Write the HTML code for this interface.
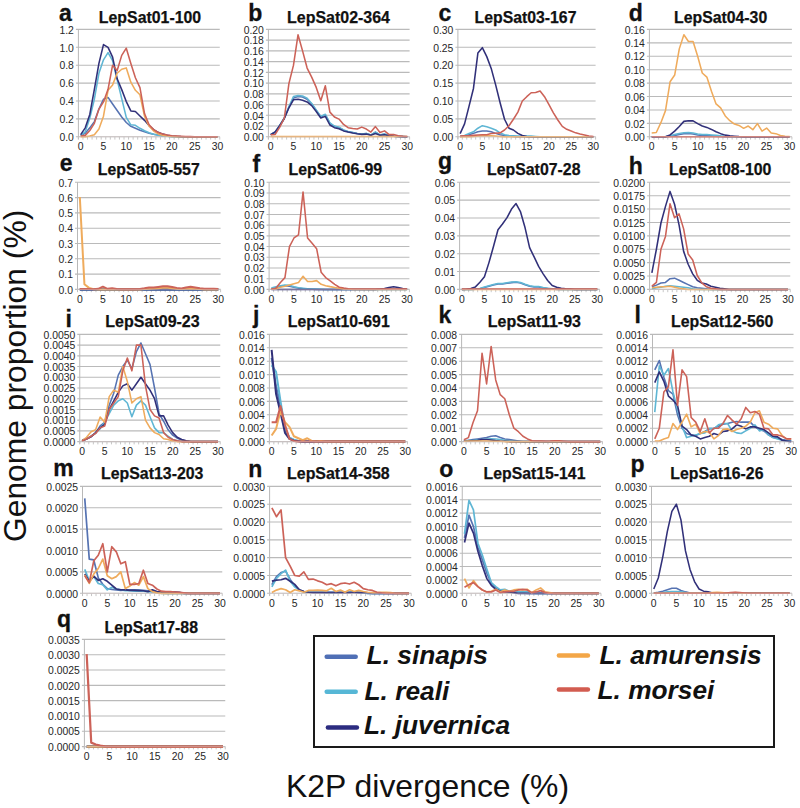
<!DOCTYPE html>
<html><head><meta charset="utf-8">
<style>
html,body{margin:0;padding:0;background:#fff;}
body{width:800px;height:808px;position:relative;overflow:hidden;font-family:"Liberation Sans",sans-serif;}
.yl{font-family:"Liberation Sans",sans-serif;font-size:10.4px;fill:#262626;text-anchor:end;}
.xl{font-family:"Liberation Sans",sans-serif;font-size:10.4px;fill:#262626;text-anchor:middle;}
.tt{font-family:"Liberation Sans",sans-serif;font-size:17.2px;font-weight:bold;fill:#111;stroke:#111;stroke-width:0.25px;text-anchor:middle;}
.lt{font-family:"Liberation Sans",sans-serif;font-size:23px;font-weight:bold;fill:#111;stroke:#111;stroke-width:0.3px;}
.lg{font-family:"Liberation Sans",sans-serif;font-size:26.3px;font-weight:bold;font-style:italic;fill:#111;}
.big{font-family:"Liberation Sans",sans-serif;font-size:31.4px;fill:#111;}
</style></head><body>
<svg width="800" height="808" viewBox="0 0 800 808" style="position:absolute;left:0;top:0">
<line x1="75.90" y1="136.80" x2="219.75" y2="136.80" stroke="#bababa" stroke-width="1.1"/>
<text x="73.90" y="141.00" class="yl">0.0</text>
<line x1="75.90" y1="118.90" x2="219.75" y2="118.90" stroke="#bababa" stroke-width="1.1"/>
<text x="73.90" y="123.10" class="yl">0.2</text>
<line x1="75.90" y1="101.00" x2="219.75" y2="101.00" stroke="#bababa" stroke-width="1.1"/>
<text x="73.90" y="105.20" class="yl">0.4</text>
<line x1="75.90" y1="83.10" x2="219.75" y2="83.10" stroke="#bababa" stroke-width="1.1"/>
<text x="73.90" y="87.30" class="yl">0.6</text>
<line x1="75.90" y1="65.20" x2="219.75" y2="65.20" stroke="#bababa" stroke-width="1.1"/>
<text x="73.90" y="69.40" class="yl">0.8</text>
<line x1="75.90" y1="47.30" x2="219.75" y2="47.30" stroke="#bababa" stroke-width="1.1"/>
<text x="73.90" y="51.50" class="yl">1.0</text>
<line x1="75.90" y1="29.40" x2="219.75" y2="29.40" stroke="#bababa" stroke-width="1.1"/>
<text x="73.90" y="33.60" class="yl">1.2</text>
<line x1="78.40" y1="29.40" x2="78.40" y2="139.30" stroke="#b8b8b8" stroke-width="1"/>
<line x1="78.40" y1="136.80" x2="78.40" y2="139.60" stroke="#c0c0c0" stroke-width="0.9"/>
<line x1="82.96" y1="136.80" x2="82.96" y2="139.60" stroke="#c0c0c0" stroke-width="0.9"/>
<line x1="87.52" y1="136.80" x2="87.52" y2="139.60" stroke="#c0c0c0" stroke-width="0.9"/>
<line x1="92.08" y1="136.80" x2="92.08" y2="139.60" stroke="#c0c0c0" stroke-width="0.9"/>
<line x1="96.64" y1="136.80" x2="96.64" y2="139.60" stroke="#c0c0c0" stroke-width="0.9"/>
<line x1="101.20" y1="136.80" x2="101.20" y2="139.60" stroke="#c0c0c0" stroke-width="0.9"/>
<line x1="105.76" y1="136.80" x2="105.76" y2="139.60" stroke="#c0c0c0" stroke-width="0.9"/>
<line x1="110.32" y1="136.80" x2="110.32" y2="139.60" stroke="#c0c0c0" stroke-width="0.9"/>
<line x1="114.88" y1="136.80" x2="114.88" y2="139.60" stroke="#c0c0c0" stroke-width="0.9"/>
<line x1="119.44" y1="136.80" x2="119.44" y2="139.60" stroke="#c0c0c0" stroke-width="0.9"/>
<line x1="124.00" y1="136.80" x2="124.00" y2="139.60" stroke="#c0c0c0" stroke-width="0.9"/>
<line x1="128.56" y1="136.80" x2="128.56" y2="139.60" stroke="#c0c0c0" stroke-width="0.9"/>
<line x1="133.12" y1="136.80" x2="133.12" y2="139.60" stroke="#c0c0c0" stroke-width="0.9"/>
<line x1="137.68" y1="136.80" x2="137.68" y2="139.60" stroke="#c0c0c0" stroke-width="0.9"/>
<line x1="142.24" y1="136.80" x2="142.24" y2="139.60" stroke="#c0c0c0" stroke-width="0.9"/>
<line x1="146.80" y1="136.80" x2="146.80" y2="139.60" stroke="#c0c0c0" stroke-width="0.9"/>
<line x1="151.35" y1="136.80" x2="151.35" y2="139.60" stroke="#c0c0c0" stroke-width="0.9"/>
<line x1="155.91" y1="136.80" x2="155.91" y2="139.60" stroke="#c0c0c0" stroke-width="0.9"/>
<line x1="160.47" y1="136.80" x2="160.47" y2="139.60" stroke="#c0c0c0" stroke-width="0.9"/>
<line x1="165.03" y1="136.80" x2="165.03" y2="139.60" stroke="#c0c0c0" stroke-width="0.9"/>
<line x1="169.59" y1="136.80" x2="169.59" y2="139.60" stroke="#c0c0c0" stroke-width="0.9"/>
<line x1="174.15" y1="136.80" x2="174.15" y2="139.60" stroke="#c0c0c0" stroke-width="0.9"/>
<line x1="178.71" y1="136.80" x2="178.71" y2="139.60" stroke="#c0c0c0" stroke-width="0.9"/>
<line x1="183.27" y1="136.80" x2="183.27" y2="139.60" stroke="#c0c0c0" stroke-width="0.9"/>
<line x1="187.83" y1="136.80" x2="187.83" y2="139.60" stroke="#c0c0c0" stroke-width="0.9"/>
<line x1="192.39" y1="136.80" x2="192.39" y2="139.60" stroke="#c0c0c0" stroke-width="0.9"/>
<line x1="196.95" y1="136.80" x2="196.95" y2="139.60" stroke="#c0c0c0" stroke-width="0.9"/>
<line x1="201.51" y1="136.80" x2="201.51" y2="139.60" stroke="#c0c0c0" stroke-width="0.9"/>
<line x1="206.07" y1="136.80" x2="206.07" y2="139.60" stroke="#c0c0c0" stroke-width="0.9"/>
<line x1="210.63" y1="136.80" x2="210.63" y2="139.60" stroke="#c0c0c0" stroke-width="0.9"/>
<line x1="215.19" y1="136.80" x2="215.19" y2="139.60" stroke="#c0c0c0" stroke-width="0.9"/>
<line x1="219.75" y1="136.80" x2="219.75" y2="139.60" stroke="#c0c0c0" stroke-width="0.9"/>
<text x="80.68" y="150.00" class="xl">0</text>
<text x="103.48" y="150.00" class="xl">5</text>
<text x="126.28" y="150.00" class="xl">10</text>
<text x="149.07" y="150.00" class="xl">15</text>
<text x="171.87" y="150.00" class="xl">20</text>
<text x="194.67" y="150.00" class="xl">25</text>
<text x="217.47" y="150.00" class="xl">30</text>
<polyline points="80.68,135.37 85.24,133.22 89.80,127.85 94.36,121.59 98.92,109.06 103.48,99.21 108.04,97.42 112.60,104.04 117.16,110.49 121.72,116.93 126.28,122.48 130.84,126.33 135.40,128.30 139.96,130.27 144.52,131.79 149.07,133.22 153.63,134.20 158.19,135.01 162.75,135.73 167.31,136.17 171.87,136.53 176.43,136.71 180.99,136.80 185.55,136.80 190.11,136.80 194.67,136.80 199.23,136.80 203.79,136.80 208.35,136.80 212.91,136.80 217.47,136.80" fill="none" stroke="#5673b2" stroke-width="1.55" stroke-linejoin="round"/>
<polyline points="80.68,135.37 85.24,131.88 89.80,118.01 94.36,99.21 98.92,73.25 103.48,59.83 108.04,52.67 112.60,60.73 117.16,79.79 121.72,98.58 126.28,117.38 130.84,124.81 135.40,125.34 139.96,128.30 144.52,130.80 149.07,132.77 153.63,134.20 158.19,135.19 162.75,135.91 167.31,136.35 171.87,136.62 176.43,136.71 180.99,136.80 185.55,136.80 190.11,136.80 194.67,136.80 199.23,136.80 203.79,136.80 208.35,136.80 212.91,136.80 217.47,136.80" fill="none" stroke="#5fb6d4" stroke-width="1.55" stroke-linejoin="round"/>
<polyline points="80.68,134.65 85.24,127.85 89.80,114.43 94.36,89.37 98.92,63.41 103.48,44.61 108.04,47.30 112.60,57.14 117.16,78.80 121.72,89.63 126.28,101.54 130.84,110.93 135.40,111.47 139.96,115.95 144.52,120.33 149.07,125.61 153.63,129.64 158.19,132.33 162.75,134.12 167.31,135.19 171.87,135.91 176.43,136.35 180.99,136.62 185.55,136.71 190.11,136.80 194.67,136.80 199.23,136.80 203.79,136.80 208.35,136.80 212.91,136.80 217.47,136.80" fill="none" stroke="#313079" stroke-width="1.55" stroke-linejoin="round"/>
<polyline points="80.68,136.80 85.24,136.80 89.80,136.08 94.36,134.65 98.92,129.01 103.48,116.22 108.04,90.26 112.60,84.89 117.16,73.25 121.72,69.23 126.28,67.89 130.84,82.21 135.40,90.26 139.96,94.74 144.52,116.22 149.07,126.06 153.63,131.07 158.19,133.94 162.75,135.37 167.31,136.08 171.87,136.44 176.43,136.62 180.99,136.80 185.55,136.80 190.11,136.80 194.67,136.80 199.23,136.80 203.79,136.80 208.35,136.80 212.91,136.80 217.47,136.80" fill="none" stroke="#efab5c" stroke-width="1.55" stroke-linejoin="round"/>
<polyline points="80.68,136.08 85.24,135.37 89.80,130.54 94.36,123.38 98.92,109.06 103.48,101.90 108.04,89.37 112.60,65.20 117.16,70.57 121.72,55.36 126.28,48.20 130.84,63.41 135.40,77.73 139.96,87.58 144.52,113.53 149.07,124.72 153.63,129.64 158.19,132.50 162.75,133.94 167.31,135.01 171.87,135.73 176.43,136.08 180.99,136.35 185.55,136.53 190.11,136.62 194.67,136.71 199.23,136.80 203.79,136.80 208.35,136.80 212.91,136.80 217.47,136.80" fill="none" stroke="#cc6258" stroke-width="1.55" stroke-linejoin="round"/>
<line x1="78.40" y1="136.80" x2="219.75" y2="136.80" stroke="#d8c8c8" stroke-width="1.0" opacity="0.5"/>
<text x="150.00" y="23.10" class="tt" textLength="102.30" lengthAdjust="spacingAndGlyphs">LepSat01-100</text>
<text x="59.00" y="21.10" class="lt">a</text>
<line x1="265.90" y1="136.80" x2="409.60" y2="136.80" stroke="#bababa" stroke-width="1.1"/>
<text x="263.90" y="141.00" class="yl">0.00</text>
<line x1="265.90" y1="126.06" x2="409.60" y2="126.06" stroke="#bababa" stroke-width="1.1"/>
<text x="263.90" y="130.26" class="yl">0.02</text>
<line x1="265.90" y1="115.32" x2="409.60" y2="115.32" stroke="#bababa" stroke-width="1.1"/>
<text x="263.90" y="119.52" class="yl">0.04</text>
<line x1="265.90" y1="104.58" x2="409.60" y2="104.58" stroke="#bababa" stroke-width="1.1"/>
<text x="263.90" y="108.78" class="yl">0.06</text>
<line x1="265.90" y1="93.84" x2="409.60" y2="93.84" stroke="#bababa" stroke-width="1.1"/>
<text x="263.90" y="98.04" class="yl">0.08</text>
<line x1="265.90" y1="83.10" x2="409.60" y2="83.10" stroke="#bababa" stroke-width="1.1"/>
<text x="263.90" y="87.30" class="yl">0.10</text>
<line x1="265.90" y1="72.36" x2="409.60" y2="72.36" stroke="#bababa" stroke-width="1.1"/>
<text x="263.90" y="76.56" class="yl">0.12</text>
<line x1="265.90" y1="61.62" x2="409.60" y2="61.62" stroke="#bababa" stroke-width="1.1"/>
<text x="263.90" y="65.82" class="yl">0.14</text>
<line x1="265.90" y1="50.88" x2="409.60" y2="50.88" stroke="#bababa" stroke-width="1.1"/>
<text x="263.90" y="55.08" class="yl">0.16</text>
<line x1="265.90" y1="40.14" x2="409.60" y2="40.14" stroke="#bababa" stroke-width="1.1"/>
<text x="263.90" y="44.34" class="yl">0.18</text>
<line x1="265.90" y1="29.40" x2="409.60" y2="29.40" stroke="#bababa" stroke-width="1.1"/>
<text x="263.90" y="33.60" class="yl">0.20</text>
<line x1="268.40" y1="29.40" x2="268.40" y2="139.30" stroke="#b8b8b8" stroke-width="1"/>
<line x1="268.40" y1="136.80" x2="268.40" y2="139.60" stroke="#c0c0c0" stroke-width="0.9"/>
<line x1="272.95" y1="136.80" x2="272.95" y2="139.60" stroke="#c0c0c0" stroke-width="0.9"/>
<line x1="277.51" y1="136.80" x2="277.51" y2="139.60" stroke="#c0c0c0" stroke-width="0.9"/>
<line x1="282.06" y1="136.80" x2="282.06" y2="139.60" stroke="#c0c0c0" stroke-width="0.9"/>
<line x1="286.62" y1="136.80" x2="286.62" y2="139.60" stroke="#c0c0c0" stroke-width="0.9"/>
<line x1="291.17" y1="136.80" x2="291.17" y2="139.60" stroke="#c0c0c0" stroke-width="0.9"/>
<line x1="295.73" y1="136.80" x2="295.73" y2="139.60" stroke="#c0c0c0" stroke-width="0.9"/>
<line x1="300.28" y1="136.80" x2="300.28" y2="139.60" stroke="#c0c0c0" stroke-width="0.9"/>
<line x1="304.84" y1="136.80" x2="304.84" y2="139.60" stroke="#c0c0c0" stroke-width="0.9"/>
<line x1="309.39" y1="136.80" x2="309.39" y2="139.60" stroke="#c0c0c0" stroke-width="0.9"/>
<line x1="313.95" y1="136.80" x2="313.95" y2="139.60" stroke="#c0c0c0" stroke-width="0.9"/>
<line x1="318.50" y1="136.80" x2="318.50" y2="139.60" stroke="#c0c0c0" stroke-width="0.9"/>
<line x1="323.06" y1="136.80" x2="323.06" y2="139.60" stroke="#c0c0c0" stroke-width="0.9"/>
<line x1="327.61" y1="136.80" x2="327.61" y2="139.60" stroke="#c0c0c0" stroke-width="0.9"/>
<line x1="332.17" y1="136.80" x2="332.17" y2="139.60" stroke="#c0c0c0" stroke-width="0.9"/>
<line x1="336.72" y1="136.80" x2="336.72" y2="139.60" stroke="#c0c0c0" stroke-width="0.9"/>
<line x1="341.28" y1="136.80" x2="341.28" y2="139.60" stroke="#c0c0c0" stroke-width="0.9"/>
<line x1="345.83" y1="136.80" x2="345.83" y2="139.60" stroke="#c0c0c0" stroke-width="0.9"/>
<line x1="350.39" y1="136.80" x2="350.39" y2="139.60" stroke="#c0c0c0" stroke-width="0.9"/>
<line x1="354.94" y1="136.80" x2="354.94" y2="139.60" stroke="#c0c0c0" stroke-width="0.9"/>
<line x1="359.50" y1="136.80" x2="359.50" y2="139.60" stroke="#c0c0c0" stroke-width="0.9"/>
<line x1="364.05" y1="136.80" x2="364.05" y2="139.60" stroke="#c0c0c0" stroke-width="0.9"/>
<line x1="368.61" y1="136.80" x2="368.61" y2="139.60" stroke="#c0c0c0" stroke-width="0.9"/>
<line x1="373.16" y1="136.80" x2="373.16" y2="139.60" stroke="#c0c0c0" stroke-width="0.9"/>
<line x1="377.72" y1="136.80" x2="377.72" y2="139.60" stroke="#c0c0c0" stroke-width="0.9"/>
<line x1="382.27" y1="136.80" x2="382.27" y2="139.60" stroke="#c0c0c0" stroke-width="0.9"/>
<line x1="386.83" y1="136.80" x2="386.83" y2="139.60" stroke="#c0c0c0" stroke-width="0.9"/>
<line x1="391.38" y1="136.80" x2="391.38" y2="139.60" stroke="#c0c0c0" stroke-width="0.9"/>
<line x1="395.94" y1="136.80" x2="395.94" y2="139.60" stroke="#c0c0c0" stroke-width="0.9"/>
<line x1="400.49" y1="136.80" x2="400.49" y2="139.60" stroke="#c0c0c0" stroke-width="0.9"/>
<line x1="405.05" y1="136.80" x2="405.05" y2="139.60" stroke="#c0c0c0" stroke-width="0.9"/>
<line x1="409.60" y1="136.80" x2="409.60" y2="139.60" stroke="#c0c0c0" stroke-width="0.9"/>
<text x="270.68" y="150.00" class="xl">0</text>
<text x="293.45" y="150.00" class="xl">5</text>
<text x="316.23" y="150.00" class="xl">10</text>
<text x="339.00" y="150.00" class="xl">15</text>
<text x="361.77" y="150.00" class="xl">20</text>
<text x="384.55" y="150.00" class="xl">25</text>
<text x="407.32" y="150.00" class="xl">30</text>
<polyline points="270.68,134.65 275.23,131.97 279.79,125.52 284.34,118.01 288.90,107.27 293.45,98.14 298.01,96.53 302.56,97.06 307.12,99.21 311.67,104.04 316.23,110.49 320.78,116.93 325.34,114.78 329.89,123.38 334.45,126.60 339.00,127.67 343.55,130.19 348.11,131.70 352.66,132.61 357.22,133.58 361.77,134.12 366.33,133.58 370.88,135.08 375.44,132.24 379.99,135.08 384.55,134.12 389.10,135.62 393.66,136.26 398.21,136.48 402.77,136.64 407.32,136.69" fill="none" stroke="#5673b2" stroke-width="1.55" stroke-linejoin="round"/>
<polyline points="270.68,134.65 275.23,131.97 279.79,125.52 284.34,118.01 288.90,106.73 293.45,96.53 298.01,95.45 302.56,95.99 307.12,98.14 311.67,103.51 316.23,109.95 320.78,116.39 325.34,114.25 329.89,122.84 334.45,126.06 339.00,127.13 343.55,129.93 348.11,131.54 352.66,132.50 357.22,133.47 361.77,134.01 366.33,133.47 370.88,134.97 375.44,132.07 379.99,134.97 384.55,134.01 389.10,135.51 393.66,136.16 398.21,136.42 402.77,136.59 407.32,136.69" fill="none" stroke="#5fb6d4" stroke-width="1.55" stroke-linejoin="round"/>
<polyline points="270.68,134.65 275.23,131.97 279.79,125.52 284.34,118.54 288.90,107.80 293.45,99.75 298.01,99.21 302.56,100.28 307.12,101.90 311.67,105.65 316.23,111.56 320.78,118.01 325.34,116.39 329.89,124.99 334.45,127.67 339.00,128.75 343.55,130.89 348.11,132.07 352.66,133.04 357.22,133.85 361.77,134.38 366.33,134.12 370.88,135.19 375.44,133.58 379.99,135.19 384.55,134.65 389.10,135.73 393.66,136.26 398.21,136.53 402.77,136.64 407.32,136.75" fill="none" stroke="#313079" stroke-width="1.55" stroke-linejoin="round"/>
<polyline points="270.68,136.53 275.23,136.53 279.79,136.53 284.34,136.53 288.90,136.53 293.45,136.53 298.01,136.53 302.56,136.53 307.12,136.53 311.67,136.53 316.23,136.53 320.78,136.53 325.34,136.53 329.89,136.53 334.45,136.53 339.00,136.53 343.55,136.53 348.11,136.53 352.66,136.53 357.22,136.53 361.77,136.53 366.33,136.53 370.88,136.53 375.44,136.53 379.99,136.53 384.55,136.53 389.10,136.53 393.66,136.53 398.21,136.53 402.77,136.53 407.32,136.53" fill="none" stroke="#efab5c" stroke-width="1.55" stroke-linejoin="round"/>
<polyline points="270.68,134.65 275.23,134.44 279.79,127.13 284.34,118.01 288.90,83.64 293.45,65.38 298.01,34.77 302.56,50.88 307.12,68.06 311.67,77.19 316.23,87.40 320.78,100.82 325.34,85.79 329.89,112.10 334.45,116.93 339.00,119.08 343.55,124.45 348.11,127.67 352.66,128.58 357.22,129.07 361.77,127.13 366.33,129.07 370.88,132.07 375.44,126.60 379.99,132.56 384.55,130.89 389.10,134.60 393.66,134.60 398.21,135.78 402.77,136.26 407.32,136.42" fill="none" stroke="#cc6258" stroke-width="1.55" stroke-linejoin="round"/>
<line x1="268.40" y1="136.80" x2="409.60" y2="136.80" stroke="#d8c8c8" stroke-width="1.0" opacity="0.5"/>
<text x="338.50" y="23.10" class="tt" textLength="102.90" lengthAdjust="spacingAndGlyphs">LepSat02-364</text>
<text x="248.35" y="21.45" class="lt">b</text>
<line x1="455.40" y1="136.80" x2="595.60" y2="136.80" stroke="#bababa" stroke-width="1.1"/>
<text x="453.40" y="141.00" class="yl">0.00</text>
<line x1="455.40" y1="118.90" x2="595.60" y2="118.90" stroke="#bababa" stroke-width="1.1"/>
<text x="453.40" y="123.10" class="yl">0.05</text>
<line x1="455.40" y1="101.00" x2="595.60" y2="101.00" stroke="#bababa" stroke-width="1.1"/>
<text x="453.40" y="105.20" class="yl">0.10</text>
<line x1="455.40" y1="83.10" x2="595.60" y2="83.10" stroke="#bababa" stroke-width="1.1"/>
<text x="453.40" y="87.30" class="yl">0.15</text>
<line x1="455.40" y1="65.20" x2="595.60" y2="65.20" stroke="#bababa" stroke-width="1.1"/>
<text x="453.40" y="69.40" class="yl">0.20</text>
<line x1="455.40" y1="47.30" x2="595.60" y2="47.30" stroke="#bababa" stroke-width="1.1"/>
<text x="453.40" y="51.50" class="yl">0.25</text>
<line x1="455.40" y1="29.40" x2="595.60" y2="29.40" stroke="#bababa" stroke-width="1.1"/>
<text x="453.40" y="33.60" class="yl">0.30</text>
<line x1="457.90" y1="29.40" x2="457.90" y2="139.30" stroke="#b8b8b8" stroke-width="1"/>
<line x1="457.90" y1="136.80" x2="457.90" y2="139.60" stroke="#c0c0c0" stroke-width="0.9"/>
<line x1="462.34" y1="136.80" x2="462.34" y2="139.60" stroke="#c0c0c0" stroke-width="0.9"/>
<line x1="466.78" y1="136.80" x2="466.78" y2="139.60" stroke="#c0c0c0" stroke-width="0.9"/>
<line x1="471.23" y1="136.80" x2="471.23" y2="139.60" stroke="#c0c0c0" stroke-width="0.9"/>
<line x1="475.67" y1="136.80" x2="475.67" y2="139.60" stroke="#c0c0c0" stroke-width="0.9"/>
<line x1="480.11" y1="136.80" x2="480.11" y2="139.60" stroke="#c0c0c0" stroke-width="0.9"/>
<line x1="484.55" y1="136.80" x2="484.55" y2="139.60" stroke="#c0c0c0" stroke-width="0.9"/>
<line x1="488.99" y1="136.80" x2="488.99" y2="139.60" stroke="#c0c0c0" stroke-width="0.9"/>
<line x1="493.44" y1="136.80" x2="493.44" y2="139.60" stroke="#c0c0c0" stroke-width="0.9"/>
<line x1="497.88" y1="136.80" x2="497.88" y2="139.60" stroke="#c0c0c0" stroke-width="0.9"/>
<line x1="502.32" y1="136.80" x2="502.32" y2="139.60" stroke="#c0c0c0" stroke-width="0.9"/>
<line x1="506.76" y1="136.80" x2="506.76" y2="139.60" stroke="#c0c0c0" stroke-width="0.9"/>
<line x1="511.20" y1="136.80" x2="511.20" y2="139.60" stroke="#c0c0c0" stroke-width="0.9"/>
<line x1="515.65" y1="136.80" x2="515.65" y2="139.60" stroke="#c0c0c0" stroke-width="0.9"/>
<line x1="520.09" y1="136.80" x2="520.09" y2="139.60" stroke="#c0c0c0" stroke-width="0.9"/>
<line x1="524.53" y1="136.80" x2="524.53" y2="139.60" stroke="#c0c0c0" stroke-width="0.9"/>
<line x1="528.97" y1="136.80" x2="528.97" y2="139.60" stroke="#c0c0c0" stroke-width="0.9"/>
<line x1="533.41" y1="136.80" x2="533.41" y2="139.60" stroke="#c0c0c0" stroke-width="0.9"/>
<line x1="537.85" y1="136.80" x2="537.85" y2="139.60" stroke="#c0c0c0" stroke-width="0.9"/>
<line x1="542.30" y1="136.80" x2="542.30" y2="139.60" stroke="#c0c0c0" stroke-width="0.9"/>
<line x1="546.74" y1="136.80" x2="546.74" y2="139.60" stroke="#c0c0c0" stroke-width="0.9"/>
<line x1="551.18" y1="136.80" x2="551.18" y2="139.60" stroke="#c0c0c0" stroke-width="0.9"/>
<line x1="555.62" y1="136.80" x2="555.62" y2="139.60" stroke="#c0c0c0" stroke-width="0.9"/>
<line x1="560.06" y1="136.80" x2="560.06" y2="139.60" stroke="#c0c0c0" stroke-width="0.9"/>
<line x1="564.51" y1="136.80" x2="564.51" y2="139.60" stroke="#c0c0c0" stroke-width="0.9"/>
<line x1="568.95" y1="136.80" x2="568.95" y2="139.60" stroke="#c0c0c0" stroke-width="0.9"/>
<line x1="573.39" y1="136.80" x2="573.39" y2="139.60" stroke="#c0c0c0" stroke-width="0.9"/>
<line x1="577.83" y1="136.80" x2="577.83" y2="139.60" stroke="#c0c0c0" stroke-width="0.9"/>
<line x1="582.27" y1="136.80" x2="582.27" y2="139.60" stroke="#c0c0c0" stroke-width="0.9"/>
<line x1="586.72" y1="136.80" x2="586.72" y2="139.60" stroke="#c0c0c0" stroke-width="0.9"/>
<line x1="591.16" y1="136.80" x2="591.16" y2="139.60" stroke="#c0c0c0" stroke-width="0.9"/>
<line x1="595.60" y1="136.80" x2="595.60" y2="139.60" stroke="#c0c0c0" stroke-width="0.9"/>
<text x="460.12" y="150.00" class="xl">0</text>
<text x="482.33" y="150.00" class="xl">5</text>
<text x="504.54" y="150.00" class="xl">10</text>
<text x="526.75" y="150.00" class="xl">15</text>
<text x="548.96" y="150.00" class="xl">20</text>
<text x="571.17" y="150.00" class="xl">25</text>
<text x="593.38" y="150.00" class="xl">30</text>
<polyline points="460.12,136.44 464.56,135.91 469.00,134.65 473.45,133.36 477.89,131.79 482.33,131.07 486.77,131.07 491.21,131.79 495.66,133.36 500.10,134.65 504.54,135.55 508.98,136.08 513.42,136.44 517.87,136.80 522.31,136.80 526.75,136.80 531.19,136.80 535.63,136.80 540.08,136.80 544.52,136.80 548.96,136.80 553.40,136.80 557.84,136.80 562.29,136.80 566.73,136.80 571.17,136.80 575.61,136.80 580.05,136.80 584.50,136.80 588.94,136.80 593.38,136.80" fill="none" stroke="#5673b2" stroke-width="1.55" stroke-linejoin="round"/>
<polyline points="460.12,136.44 464.56,135.55 469.00,133.58 473.45,131.79 477.89,128.21 482.33,125.70 486.77,126.78 491.21,128.21 495.66,130.00 500.10,132.86 504.54,134.65 508.98,135.55 513.42,135.73 517.87,136.08 522.31,136.08 526.75,136.08 531.19,136.08 535.63,136.44 540.08,136.80 544.52,136.80 548.96,136.80 553.40,136.80 557.84,136.80 562.29,136.80 566.73,136.80 571.17,136.80 575.61,136.80 580.05,136.80 584.50,136.80 588.94,136.80 593.38,136.80" fill="none" stroke="#5fb6d4" stroke-width="1.55" stroke-linejoin="round"/>
<polyline points="460.12,133.58 464.56,123.91 469.00,106.37 473.45,88.47 477.89,53.03 482.33,47.66 486.77,56.61 491.21,68.42 495.66,84.89 500.10,102.79 504.54,119.26 508.98,128.21 513.42,130.00 517.87,133.36 522.31,135.55 526.75,136.44 531.19,136.80 535.63,136.80 540.08,136.80 544.52,136.80 548.96,136.80 553.40,136.80 557.84,136.80 562.29,136.80 566.73,136.80 571.17,136.80 575.61,136.80 580.05,136.80 584.50,136.80 588.94,136.80 593.38,136.80" fill="none" stroke="#313079" stroke-width="1.55" stroke-linejoin="round"/>
<polyline points="460.12,136.80 464.56,136.80 469.00,136.80 473.45,136.44 477.89,136.08 482.33,135.73 486.77,135.73 491.21,135.73 495.66,136.08 500.10,136.44 504.54,136.80 508.98,136.80 513.42,136.80 517.87,136.80 522.31,136.80 526.75,136.80 531.19,136.80 535.63,136.80 540.08,136.80 544.52,136.80 548.96,136.80 553.40,136.80 557.84,136.80 562.29,136.80 566.73,136.80 571.17,136.80 575.61,136.80 580.05,136.80 584.50,136.80 588.94,136.80 593.38,136.80" fill="none" stroke="#efab5c" stroke-width="1.55" stroke-linejoin="round"/>
<polyline points="460.12,136.08 464.56,135.73 469.00,135.73 473.45,135.37 477.89,135.01 482.33,134.65 486.77,134.65 491.21,133.58 495.66,133.22 500.10,132.86 504.54,130.00 508.98,125.70 513.42,119.26 517.87,112.10 522.31,101.00 526.75,96.70 531.19,92.77 535.63,92.41 540.08,90.98 544.52,96.70 548.96,104.58 553.40,112.81 557.84,119.97 562.29,126.42 566.73,129.28 571.17,131.07 575.61,132.86 580.05,134.08 584.50,135.01 588.94,135.91 593.38,136.44" fill="none" stroke="#cc6258" stroke-width="1.55" stroke-linejoin="round"/>
<line x1="457.90" y1="136.80" x2="595.60" y2="136.80" stroke="#d8c8c8" stroke-width="1.0" opacity="0.5"/>
<text x="525.50" y="23.10" class="tt" textLength="101.90" lengthAdjust="spacingAndGlyphs">LepSat03-167</text>
<text x="438.50" y="21.45" class="lt">c</text>
<line x1="646.90" y1="136.80" x2="791.90" y2="136.80" stroke="#bababa" stroke-width="1.1"/>
<text x="644.90" y="141.00" class="yl">0.00</text>
<line x1="646.90" y1="123.38" x2="791.90" y2="123.38" stroke="#bababa" stroke-width="1.1"/>
<text x="644.90" y="127.58" class="yl">0.02</text>
<line x1="646.90" y1="109.95" x2="791.90" y2="109.95" stroke="#bababa" stroke-width="1.1"/>
<text x="644.90" y="114.15" class="yl">0.04</text>
<line x1="646.90" y1="96.53" x2="791.90" y2="96.53" stroke="#bababa" stroke-width="1.1"/>
<text x="644.90" y="100.73" class="yl">0.06</text>
<line x1="646.90" y1="83.10" x2="791.90" y2="83.10" stroke="#bababa" stroke-width="1.1"/>
<text x="644.90" y="87.30" class="yl">0.08</text>
<line x1="646.90" y1="69.68" x2="791.90" y2="69.68" stroke="#bababa" stroke-width="1.1"/>
<text x="644.90" y="73.88" class="yl">0.10</text>
<line x1="646.90" y1="56.25" x2="791.90" y2="56.25" stroke="#bababa" stroke-width="1.1"/>
<text x="644.90" y="60.45" class="yl">0.12</text>
<line x1="646.90" y1="42.83" x2="791.90" y2="42.83" stroke="#bababa" stroke-width="1.1"/>
<text x="644.90" y="47.03" class="yl">0.14</text>
<line x1="646.90" y1="29.40" x2="791.90" y2="29.40" stroke="#bababa" stroke-width="1.1"/>
<text x="644.90" y="33.60" class="yl">0.16</text>
<line x1="649.40" y1="29.40" x2="649.40" y2="139.30" stroke="#b8b8b8" stroke-width="1"/>
<line x1="649.40" y1="136.80" x2="649.40" y2="139.60" stroke="#c0c0c0" stroke-width="0.9"/>
<line x1="654.00" y1="136.80" x2="654.00" y2="139.60" stroke="#c0c0c0" stroke-width="0.9"/>
<line x1="658.59" y1="136.80" x2="658.59" y2="139.60" stroke="#c0c0c0" stroke-width="0.9"/>
<line x1="663.19" y1="136.80" x2="663.19" y2="139.60" stroke="#c0c0c0" stroke-width="0.9"/>
<line x1="667.79" y1="136.80" x2="667.79" y2="139.60" stroke="#c0c0c0" stroke-width="0.9"/>
<line x1="672.38" y1="136.80" x2="672.38" y2="139.60" stroke="#c0c0c0" stroke-width="0.9"/>
<line x1="676.98" y1="136.80" x2="676.98" y2="139.60" stroke="#c0c0c0" stroke-width="0.9"/>
<line x1="681.58" y1="136.80" x2="681.58" y2="139.60" stroke="#c0c0c0" stroke-width="0.9"/>
<line x1="686.17" y1="136.80" x2="686.17" y2="139.60" stroke="#c0c0c0" stroke-width="0.9"/>
<line x1="690.77" y1="136.80" x2="690.77" y2="139.60" stroke="#c0c0c0" stroke-width="0.9"/>
<line x1="695.37" y1="136.80" x2="695.37" y2="139.60" stroke="#c0c0c0" stroke-width="0.9"/>
<line x1="699.96" y1="136.80" x2="699.96" y2="139.60" stroke="#c0c0c0" stroke-width="0.9"/>
<line x1="704.56" y1="136.80" x2="704.56" y2="139.60" stroke="#c0c0c0" stroke-width="0.9"/>
<line x1="709.16" y1="136.80" x2="709.16" y2="139.60" stroke="#c0c0c0" stroke-width="0.9"/>
<line x1="713.75" y1="136.80" x2="713.75" y2="139.60" stroke="#c0c0c0" stroke-width="0.9"/>
<line x1="718.35" y1="136.80" x2="718.35" y2="139.60" stroke="#c0c0c0" stroke-width="0.9"/>
<line x1="722.95" y1="136.80" x2="722.95" y2="139.60" stroke="#c0c0c0" stroke-width="0.9"/>
<line x1="727.55" y1="136.80" x2="727.55" y2="139.60" stroke="#c0c0c0" stroke-width="0.9"/>
<line x1="732.14" y1="136.80" x2="732.14" y2="139.60" stroke="#c0c0c0" stroke-width="0.9"/>
<line x1="736.74" y1="136.80" x2="736.74" y2="139.60" stroke="#c0c0c0" stroke-width="0.9"/>
<line x1="741.34" y1="136.80" x2="741.34" y2="139.60" stroke="#c0c0c0" stroke-width="0.9"/>
<line x1="745.93" y1="136.80" x2="745.93" y2="139.60" stroke="#c0c0c0" stroke-width="0.9"/>
<line x1="750.53" y1="136.80" x2="750.53" y2="139.60" stroke="#c0c0c0" stroke-width="0.9"/>
<line x1="755.13" y1="136.80" x2="755.13" y2="139.60" stroke="#c0c0c0" stroke-width="0.9"/>
<line x1="759.72" y1="136.80" x2="759.72" y2="139.60" stroke="#c0c0c0" stroke-width="0.9"/>
<line x1="764.32" y1="136.80" x2="764.32" y2="139.60" stroke="#c0c0c0" stroke-width="0.9"/>
<line x1="768.92" y1="136.80" x2="768.92" y2="139.60" stroke="#c0c0c0" stroke-width="0.9"/>
<line x1="773.51" y1="136.80" x2="773.51" y2="139.60" stroke="#c0c0c0" stroke-width="0.9"/>
<line x1="778.11" y1="136.80" x2="778.11" y2="139.60" stroke="#c0c0c0" stroke-width="0.9"/>
<line x1="782.71" y1="136.80" x2="782.71" y2="139.60" stroke="#c0c0c0" stroke-width="0.9"/>
<line x1="787.30" y1="136.80" x2="787.30" y2="139.60" stroke="#c0c0c0" stroke-width="0.9"/>
<line x1="791.90" y1="136.80" x2="791.90" y2="139.60" stroke="#c0c0c0" stroke-width="0.9"/>
<text x="651.70" y="150.00" class="xl">0</text>
<text x="674.68" y="150.00" class="xl">5</text>
<text x="697.67" y="150.00" class="xl">10</text>
<text x="720.65" y="150.00" class="xl">15</text>
<text x="743.63" y="150.00" class="xl">20</text>
<text x="766.62" y="150.00" class="xl">25</text>
<text x="789.60" y="150.00" class="xl">30</text>
<polyline points="651.70,136.80 656.30,136.80 660.89,136.80 665.49,136.80 670.09,136.13 674.68,135.46 679.28,134.38 683.88,133.65 688.47,133.44 693.07,133.98 697.67,134.92 702.26,135.46 706.86,135.46 711.46,135.86 716.05,136.26 720.65,136.60 725.25,136.80 729.84,136.80 734.44,136.80 739.04,136.80 743.63,136.80 748.23,136.80 752.83,136.80 757.42,136.80 762.02,136.80 766.62,136.80 771.21,136.80 775.81,136.80 780.41,136.80 785.00,136.80 789.60,136.80" fill="none" stroke="#5673b2" stroke-width="1.55" stroke-linejoin="round"/>
<polyline points="651.70,136.80 656.30,136.80 660.89,136.80 665.49,136.80 670.09,135.86 674.68,134.52 679.28,133.44 683.88,132.71 688.47,132.50 693.07,133.04 697.67,133.98 702.26,134.52 706.86,134.52 711.46,134.92 716.05,135.32 720.65,135.86 725.25,136.26 729.84,136.60 734.44,136.80 739.04,136.80 743.63,136.80 748.23,136.80 752.83,136.80 757.42,136.80 762.02,136.80 766.62,136.80 771.21,136.80 775.81,136.80 780.41,136.80 785.00,136.80 789.60,136.80" fill="none" stroke="#5fb6d4" stroke-width="1.55" stroke-linejoin="round"/>
<polyline points="651.70,136.80 656.30,136.80 660.89,136.80 665.49,136.80 670.09,134.92 674.68,131.16 679.28,126.46 683.88,121.36 688.47,120.69 693.07,120.89 697.67,123.64 702.26,126.06 706.86,127.40 711.46,129.42 716.05,131.77 720.65,133.65 725.25,135.12 729.84,135.86 734.44,136.26 739.04,136.60 743.63,136.80 748.23,136.80 752.83,136.80 757.42,136.80 762.02,136.80 766.62,136.80 771.21,136.80 775.81,136.80 780.41,136.80 785.00,136.80 789.60,136.80" fill="none" stroke="#313079" stroke-width="1.55" stroke-linejoin="round"/>
<polyline points="651.70,133.04 656.30,132.50 660.89,122.70 665.49,110.62 670.09,81.76 674.68,75.05 679.28,48.87 683.88,34.77 688.47,41.48 693.07,41.48 697.67,56.25 702.26,73.03 706.86,77.06 711.46,91.16 716.05,103.91 720.65,107.94 725.25,115.99 729.84,120.69 734.44,124.05 739.04,125.39 743.63,128.34 748.23,126.06 752.83,129.68 757.42,123.64 762.02,131.16 766.62,128.07 771.21,133.04 775.81,133.65 780.41,135.46 785.00,136.26 789.60,136.60" fill="none" stroke="#efab5c" stroke-width="1.55" stroke-linejoin="round"/>
<polyline points="651.70,136.80 656.30,136.80 660.89,136.80 665.49,136.80 670.09,136.80 674.68,136.80 679.28,136.80 683.88,136.80 688.47,136.80 693.07,136.80 697.67,136.80 702.26,136.80 706.86,136.80 711.46,136.80 716.05,136.80 720.65,136.80 725.25,136.80 729.84,136.80 734.44,136.80 739.04,136.80 743.63,136.80 748.23,136.80 752.83,136.80 757.42,136.80 762.02,136.80 766.62,136.80 771.21,136.80 775.81,136.80 780.41,136.80 785.00,136.80 789.60,136.80" fill="none" stroke="#cc6258" stroke-width="1.55" stroke-linejoin="round"/>
<line x1="649.40" y1="136.80" x2="791.90" y2="136.80" stroke="#d8c8c8" stroke-width="1.0" opacity="0.5"/>
<text x="720.62" y="23.10" class="tt" textLength="93.15" lengthAdjust="spacingAndGlyphs">LepSat04-30</text>
<text x="628.85" y="21.45" class="lt">d</text>
<line x1="75.00" y1="289.40" x2="220.60" y2="289.40" stroke="#bababa" stroke-width="1.1"/>
<text x="73.00" y="293.60" class="yl">0.0</text>
<line x1="75.00" y1="274.10" x2="220.60" y2="274.10" stroke="#bababa" stroke-width="1.1"/>
<text x="73.00" y="278.30" class="yl">0.1</text>
<line x1="75.00" y1="258.80" x2="220.60" y2="258.80" stroke="#bababa" stroke-width="1.1"/>
<text x="73.00" y="263.00" class="yl">0.2</text>
<line x1="75.00" y1="243.50" x2="220.60" y2="243.50" stroke="#bababa" stroke-width="1.1"/>
<text x="73.00" y="247.70" class="yl">0.3</text>
<line x1="75.00" y1="228.20" x2="220.60" y2="228.20" stroke="#bababa" stroke-width="1.1"/>
<text x="73.00" y="232.40" class="yl">0.4</text>
<line x1="75.00" y1="212.90" x2="220.60" y2="212.90" stroke="#bababa" stroke-width="1.1"/>
<text x="73.00" y="217.10" class="yl">0.5</text>
<line x1="75.00" y1="197.60" x2="220.60" y2="197.60" stroke="#bababa" stroke-width="1.1"/>
<text x="73.00" y="201.80" class="yl">0.6</text>
<line x1="75.00" y1="182.30" x2="220.60" y2="182.30" stroke="#bababa" stroke-width="1.1"/>
<text x="73.00" y="186.50" class="yl">0.7</text>
<line x1="77.50" y1="182.30" x2="77.50" y2="291.90" stroke="#b8b8b8" stroke-width="1"/>
<line x1="77.50" y1="289.40" x2="77.50" y2="292.20" stroke="#c0c0c0" stroke-width="0.9"/>
<line x1="82.12" y1="289.40" x2="82.12" y2="292.20" stroke="#c0c0c0" stroke-width="0.9"/>
<line x1="86.73" y1="289.40" x2="86.73" y2="292.20" stroke="#c0c0c0" stroke-width="0.9"/>
<line x1="91.35" y1="289.40" x2="91.35" y2="292.20" stroke="#c0c0c0" stroke-width="0.9"/>
<line x1="95.96" y1="289.40" x2="95.96" y2="292.20" stroke="#c0c0c0" stroke-width="0.9"/>
<line x1="100.58" y1="289.40" x2="100.58" y2="292.20" stroke="#c0c0c0" stroke-width="0.9"/>
<line x1="105.20" y1="289.40" x2="105.20" y2="292.20" stroke="#c0c0c0" stroke-width="0.9"/>
<line x1="109.81" y1="289.40" x2="109.81" y2="292.20" stroke="#c0c0c0" stroke-width="0.9"/>
<line x1="114.43" y1="289.40" x2="114.43" y2="292.20" stroke="#c0c0c0" stroke-width="0.9"/>
<line x1="119.05" y1="289.40" x2="119.05" y2="292.20" stroke="#c0c0c0" stroke-width="0.9"/>
<line x1="123.66" y1="289.40" x2="123.66" y2="292.20" stroke="#c0c0c0" stroke-width="0.9"/>
<line x1="128.28" y1="289.40" x2="128.28" y2="292.20" stroke="#c0c0c0" stroke-width="0.9"/>
<line x1="132.89" y1="289.40" x2="132.89" y2="292.20" stroke="#c0c0c0" stroke-width="0.9"/>
<line x1="137.51" y1="289.40" x2="137.51" y2="292.20" stroke="#c0c0c0" stroke-width="0.9"/>
<line x1="142.13" y1="289.40" x2="142.13" y2="292.20" stroke="#c0c0c0" stroke-width="0.9"/>
<line x1="146.74" y1="289.40" x2="146.74" y2="292.20" stroke="#c0c0c0" stroke-width="0.9"/>
<line x1="151.36" y1="289.40" x2="151.36" y2="292.20" stroke="#c0c0c0" stroke-width="0.9"/>
<line x1="155.97" y1="289.40" x2="155.97" y2="292.20" stroke="#c0c0c0" stroke-width="0.9"/>
<line x1="160.59" y1="289.40" x2="160.59" y2="292.20" stroke="#c0c0c0" stroke-width="0.9"/>
<line x1="165.21" y1="289.40" x2="165.21" y2="292.20" stroke="#c0c0c0" stroke-width="0.9"/>
<line x1="169.82" y1="289.40" x2="169.82" y2="292.20" stroke="#c0c0c0" stroke-width="0.9"/>
<line x1="174.44" y1="289.40" x2="174.44" y2="292.20" stroke="#c0c0c0" stroke-width="0.9"/>
<line x1="179.05" y1="289.40" x2="179.05" y2="292.20" stroke="#c0c0c0" stroke-width="0.9"/>
<line x1="183.67" y1="289.40" x2="183.67" y2="292.20" stroke="#c0c0c0" stroke-width="0.9"/>
<line x1="188.29" y1="289.40" x2="188.29" y2="292.20" stroke="#c0c0c0" stroke-width="0.9"/>
<line x1="192.90" y1="289.40" x2="192.90" y2="292.20" stroke="#c0c0c0" stroke-width="0.9"/>
<line x1="197.52" y1="289.40" x2="197.52" y2="292.20" stroke="#c0c0c0" stroke-width="0.9"/>
<line x1="202.14" y1="289.40" x2="202.14" y2="292.20" stroke="#c0c0c0" stroke-width="0.9"/>
<line x1="206.75" y1="289.40" x2="206.75" y2="292.20" stroke="#c0c0c0" stroke-width="0.9"/>
<line x1="211.37" y1="289.40" x2="211.37" y2="292.20" stroke="#c0c0c0" stroke-width="0.9"/>
<line x1="215.98" y1="289.40" x2="215.98" y2="292.20" stroke="#c0c0c0" stroke-width="0.9"/>
<line x1="220.60" y1="289.40" x2="220.60" y2="292.20" stroke="#c0c0c0" stroke-width="0.9"/>
<text x="79.81" y="302.60" class="xl">0</text>
<text x="102.89" y="302.60" class="xl">5</text>
<text x="125.97" y="302.60" class="xl">10</text>
<text x="149.05" y="302.60" class="xl">15</text>
<text x="172.13" y="302.60" class="xl">20</text>
<text x="195.21" y="302.60" class="xl">25</text>
<text x="218.29" y="302.60" class="xl">30</text>
<polyline points="79.81,289.40 84.42,289.40 89.04,289.40 93.66,289.40 98.27,289.40 102.89,289.40 107.50,289.40 112.12,289.40 116.74,289.40 121.35,289.40 125.97,289.40 130.59,289.40 135.20,289.40 139.82,289.40 144.43,289.40 149.05,289.40 153.67,289.40 158.28,289.40 162.90,289.40 167.51,289.40 172.13,289.40 176.75,289.40 181.36,289.40 185.98,289.40 190.60,289.40 195.21,289.40 199.83,289.40 204.44,289.40 209.06,289.40 213.68,289.40 218.29,289.40" fill="none" stroke="#5673b2" stroke-width="2.0" stroke-linejoin="round"/>
<polyline points="79.81,289.40 84.42,289.40 89.04,289.40 93.66,289.40 98.27,289.40 102.89,289.40 107.50,289.40 112.12,289.40 116.74,289.40 121.35,289.40 125.97,289.40 130.59,289.40 135.20,289.40 139.82,289.40 144.43,289.40 149.05,289.40 153.67,289.40 158.28,289.40 162.90,289.40 167.51,289.40 172.13,289.40 176.75,289.40 181.36,289.40 185.98,289.40 190.60,289.40 195.21,289.40 199.83,289.40 204.44,289.40 209.06,289.40 213.68,289.40 218.29,289.40" fill="none" stroke="#5fb6d4" stroke-width="2.0" stroke-linejoin="round"/>
<polyline points="79.81,289.40 84.42,289.40 89.04,289.40 93.66,289.40 98.27,289.40 102.89,289.40 107.50,289.40 112.12,289.40 116.74,289.40 121.35,289.40 125.97,289.40 130.59,289.40 135.20,289.40 139.82,289.40 144.43,289.40 149.05,289.40 153.67,289.40 158.28,289.40 162.90,289.40 167.51,289.40 172.13,289.40 176.75,289.40 181.36,289.40 185.98,289.40 190.60,289.40 195.21,289.40 199.83,289.40 204.44,289.40 209.06,289.40 213.68,289.40 218.29,289.40" fill="none" stroke="#313079" stroke-width="2.0" stroke-linejoin="round"/>
<polyline points="79.81,196.99 84.42,284.20 89.04,287.87 93.66,289.25 98.27,289.40 102.89,289.40 107.50,289.40 112.12,289.40 116.74,289.40 121.35,289.40 125.97,289.40 130.59,289.40 135.20,289.40 139.82,289.40 144.43,289.09 149.05,288.79 153.67,288.48 158.28,288.18 162.90,287.87 167.51,287.87 172.13,288.18 176.75,288.79 181.36,289.09 185.98,288.79 190.60,288.48 195.21,288.79 199.83,289.09 204.44,289.40 209.06,289.40 213.68,289.40 218.29,289.40" fill="none" stroke="#efab5c" stroke-width="2.0" stroke-linejoin="round"/>
<polyline points="79.81,289.09 84.42,289.09 89.04,289.09 93.66,289.25 98.27,288.79 102.89,286.65 107.50,288.79 112.12,288.33 116.74,289.09 121.35,289.25 125.97,289.25 130.59,289.25 135.20,289.25 139.82,288.94 144.43,288.33 149.05,287.56 153.67,287.56 158.28,286.95 162.90,286.34 167.51,286.34 172.13,286.95 176.75,287.87 181.36,288.48 185.98,287.41 190.60,286.65 195.21,287.41 199.83,288.33 204.44,288.63 209.06,288.63 213.68,288.79 218.29,289.09" fill="none" stroke="#cc6258" stroke-width="2.0" stroke-linejoin="round"/>
<line x1="77.50" y1="289.40" x2="220.60" y2="289.40" stroke="#d8c8c8" stroke-width="1.0" opacity="0.5"/>
<text x="148.75" y="174.85" class="tt" textLength="101.90" lengthAdjust="spacingAndGlyphs">LepSat05-557</text>
<text x="59.70" y="171.10" class="lt">e</text>
<line x1="266.60" y1="289.40" x2="409.40" y2="289.40" stroke="#bababa" stroke-width="1.1"/>
<text x="264.60" y="293.60" class="yl">0.00</text>
<line x1="266.60" y1="278.69" x2="409.40" y2="278.69" stroke="#bababa" stroke-width="1.1"/>
<text x="264.60" y="282.89" class="yl">0.01</text>
<line x1="266.60" y1="267.98" x2="409.40" y2="267.98" stroke="#bababa" stroke-width="1.1"/>
<text x="264.60" y="272.18" class="yl">0.02</text>
<line x1="266.60" y1="257.27" x2="409.40" y2="257.27" stroke="#bababa" stroke-width="1.1"/>
<text x="264.60" y="261.47" class="yl">0.03</text>
<line x1="266.60" y1="246.56" x2="409.40" y2="246.56" stroke="#bababa" stroke-width="1.1"/>
<text x="264.60" y="250.76" class="yl">0.04</text>
<line x1="266.60" y1="235.85" x2="409.40" y2="235.85" stroke="#bababa" stroke-width="1.1"/>
<text x="264.60" y="240.05" class="yl">0.05</text>
<line x1="266.60" y1="225.14" x2="409.40" y2="225.14" stroke="#bababa" stroke-width="1.1"/>
<text x="264.60" y="229.34" class="yl">0.06</text>
<line x1="266.60" y1="214.43" x2="409.40" y2="214.43" stroke="#bababa" stroke-width="1.1"/>
<text x="264.60" y="218.63" class="yl">0.07</text>
<line x1="266.60" y1="203.72" x2="409.40" y2="203.72" stroke="#bababa" stroke-width="1.1"/>
<text x="264.60" y="207.92" class="yl">0.08</text>
<line x1="266.60" y1="193.01" x2="409.40" y2="193.01" stroke="#bababa" stroke-width="1.1"/>
<text x="264.60" y="197.21" class="yl">0.09</text>
<line x1="266.60" y1="182.30" x2="409.40" y2="182.30" stroke="#bababa" stroke-width="1.1"/>
<text x="264.60" y="186.50" class="yl">0.10</text>
<line x1="269.10" y1="182.30" x2="269.10" y2="291.90" stroke="#b8b8b8" stroke-width="1"/>
<line x1="269.10" y1="289.40" x2="269.10" y2="292.20" stroke="#c0c0c0" stroke-width="0.9"/>
<line x1="273.63" y1="289.40" x2="273.63" y2="292.20" stroke="#c0c0c0" stroke-width="0.9"/>
<line x1="278.15" y1="289.40" x2="278.15" y2="292.20" stroke="#c0c0c0" stroke-width="0.9"/>
<line x1="282.68" y1="289.40" x2="282.68" y2="292.20" stroke="#c0c0c0" stroke-width="0.9"/>
<line x1="287.20" y1="289.40" x2="287.20" y2="292.20" stroke="#c0c0c0" stroke-width="0.9"/>
<line x1="291.73" y1="289.40" x2="291.73" y2="292.20" stroke="#c0c0c0" stroke-width="0.9"/>
<line x1="296.25" y1="289.40" x2="296.25" y2="292.20" stroke="#c0c0c0" stroke-width="0.9"/>
<line x1="300.78" y1="289.40" x2="300.78" y2="292.20" stroke="#c0c0c0" stroke-width="0.9"/>
<line x1="305.31" y1="289.40" x2="305.31" y2="292.20" stroke="#c0c0c0" stroke-width="0.9"/>
<line x1="309.83" y1="289.40" x2="309.83" y2="292.20" stroke="#c0c0c0" stroke-width="0.9"/>
<line x1="314.36" y1="289.40" x2="314.36" y2="292.20" stroke="#c0c0c0" stroke-width="0.9"/>
<line x1="318.88" y1="289.40" x2="318.88" y2="292.20" stroke="#c0c0c0" stroke-width="0.9"/>
<line x1="323.41" y1="289.40" x2="323.41" y2="292.20" stroke="#c0c0c0" stroke-width="0.9"/>
<line x1="327.94" y1="289.40" x2="327.94" y2="292.20" stroke="#c0c0c0" stroke-width="0.9"/>
<line x1="332.46" y1="289.40" x2="332.46" y2="292.20" stroke="#c0c0c0" stroke-width="0.9"/>
<line x1="336.99" y1="289.40" x2="336.99" y2="292.20" stroke="#c0c0c0" stroke-width="0.9"/>
<line x1="341.51" y1="289.40" x2="341.51" y2="292.20" stroke="#c0c0c0" stroke-width="0.9"/>
<line x1="346.04" y1="289.40" x2="346.04" y2="292.20" stroke="#c0c0c0" stroke-width="0.9"/>
<line x1="350.56" y1="289.40" x2="350.56" y2="292.20" stroke="#c0c0c0" stroke-width="0.9"/>
<line x1="355.09" y1="289.40" x2="355.09" y2="292.20" stroke="#c0c0c0" stroke-width="0.9"/>
<line x1="359.62" y1="289.40" x2="359.62" y2="292.20" stroke="#c0c0c0" stroke-width="0.9"/>
<line x1="364.14" y1="289.40" x2="364.14" y2="292.20" stroke="#c0c0c0" stroke-width="0.9"/>
<line x1="368.67" y1="289.40" x2="368.67" y2="292.20" stroke="#c0c0c0" stroke-width="0.9"/>
<line x1="373.19" y1="289.40" x2="373.19" y2="292.20" stroke="#c0c0c0" stroke-width="0.9"/>
<line x1="377.72" y1="289.40" x2="377.72" y2="292.20" stroke="#c0c0c0" stroke-width="0.9"/>
<line x1="382.25" y1="289.40" x2="382.25" y2="292.20" stroke="#c0c0c0" stroke-width="0.9"/>
<line x1="386.77" y1="289.40" x2="386.77" y2="292.20" stroke="#c0c0c0" stroke-width="0.9"/>
<line x1="391.30" y1="289.40" x2="391.30" y2="292.20" stroke="#c0c0c0" stroke-width="0.9"/>
<line x1="395.82" y1="289.40" x2="395.82" y2="292.20" stroke="#c0c0c0" stroke-width="0.9"/>
<line x1="400.35" y1="289.40" x2="400.35" y2="292.20" stroke="#c0c0c0" stroke-width="0.9"/>
<line x1="404.87" y1="289.40" x2="404.87" y2="292.20" stroke="#c0c0c0" stroke-width="0.9"/>
<line x1="409.40" y1="289.40" x2="409.40" y2="292.20" stroke="#c0c0c0" stroke-width="0.9"/>
<text x="271.36" y="302.60" class="xl">0</text>
<text x="293.99" y="302.60" class="xl">5</text>
<text x="316.62" y="302.60" class="xl">10</text>
<text x="339.25" y="302.60" class="xl">15</text>
<text x="361.88" y="302.60" class="xl">20</text>
<text x="384.51" y="302.60" class="xl">25</text>
<text x="407.14" y="302.60" class="xl">30</text>
<polyline points="271.36,288.65 275.89,287.47 280.41,286.19 284.94,285.65 289.47,286.19 293.99,287.15 298.52,288.11 303.04,288.65 307.57,288.97 312.10,289.19 316.62,289.40 321.15,289.40 325.67,289.40 330.20,289.40 334.72,289.40 339.25,289.40 343.78,289.40 348.30,289.40 352.83,289.40 357.35,289.40 361.88,289.40 366.40,289.40 370.93,289.40 375.46,289.40 379.98,289.40 384.51,289.40 389.03,289.40 393.56,289.40 398.09,289.40 402.61,289.40 407.14,289.40" fill="none" stroke="#5673b2" stroke-width="1.55" stroke-linejoin="round"/>
<polyline points="271.36,288.11 275.89,286.72 280.41,285.65 284.94,284.90 289.47,285.22 293.99,286.72 298.52,287.69 303.04,288.22 307.57,288.65 312.10,288.97 316.62,289.08 321.15,289.19 325.67,289.40 330.20,289.40 334.72,289.40 339.25,289.40 343.78,289.40 348.30,289.40 352.83,289.40 357.35,289.40 361.88,289.40 366.40,289.40 370.93,289.40 375.46,289.40 379.98,289.40 384.51,289.40 389.03,289.40 393.56,289.40 398.09,289.40 402.61,289.40 407.14,289.40" fill="none" stroke="#5fb6d4" stroke-width="1.55" stroke-linejoin="round"/>
<polyline points="271.36,289.40 275.89,289.40 280.41,289.40 284.94,289.40 289.47,289.40 293.99,289.40 298.52,289.40 303.04,289.40 307.57,289.40 312.10,289.40 316.62,289.40 321.15,289.40 325.67,289.40 330.20,289.40 334.72,289.40 339.25,289.40 343.78,289.40 348.30,289.40 352.83,289.40 357.35,289.40 361.88,289.40 366.40,289.40 370.93,289.40 375.46,289.40 379.98,289.08 384.51,288.54 389.03,287.47 393.56,286.72 398.09,287.47 402.61,288.54 407.14,288.97" fill="none" stroke="#313079" stroke-width="1.55" stroke-linejoin="round"/>
<polyline points="271.36,289.08 275.89,289.08 280.41,287.26 284.94,286.19 289.47,284.90 293.99,283.72 298.52,282.44 303.04,276.23 307.57,281.47 312.10,281.47 316.62,280.62 321.15,284.37 325.67,285.65 330.20,286.62 334.72,287.47 339.25,288.33 343.78,288.86 348.30,289.08 352.83,289.40 357.35,289.40 361.88,289.40 366.40,289.40 370.93,289.40 375.46,289.40 379.98,289.40 384.51,289.40 389.03,289.40 393.56,289.40 398.09,289.40 402.61,289.40 407.14,289.40" fill="none" stroke="#efab5c" stroke-width="1.55" stroke-linejoin="round"/>
<polyline points="271.36,288.97 275.89,288.33 280.41,282.44 284.94,277.62 289.47,246.56 293.99,237.99 298.52,234.78 303.04,191.94 307.57,237.99 312.10,243.35 316.62,248.70 321.15,272.26 325.67,277.62 330.20,280.83 334.72,284.37 339.25,287.26 343.78,288.11 348.30,288.65 352.83,289.08 357.35,289.08 361.88,289.08 366.40,289.08 370.93,289.08 375.46,289.08 379.98,289.08 384.51,289.08 389.03,289.08 393.56,289.08 398.09,289.08 402.61,289.08 407.14,289.08" fill="none" stroke="#cc6258" stroke-width="1.55" stroke-linejoin="round"/>
<line x1="269.10" y1="289.40" x2="409.40" y2="289.40" stroke="#d8c8c8" stroke-width="1.0" opacity="0.5"/>
<text x="335.38" y="174.85" class="tt" textLength="93.65" lengthAdjust="spacingAndGlyphs">LepSat06-99</text>
<text x="252.60" y="172.20" class="lt">f</text>
<line x1="457.10" y1="289.40" x2="599.60" y2="289.40" stroke="#bababa" stroke-width="1.1"/>
<text x="455.10" y="293.60" class="yl">0.00</text>
<line x1="457.10" y1="271.55" x2="599.60" y2="271.55" stroke="#bababa" stroke-width="1.1"/>
<text x="455.10" y="275.75" class="yl">0.01</text>
<line x1="457.10" y1="253.70" x2="599.60" y2="253.70" stroke="#bababa" stroke-width="1.1"/>
<text x="455.10" y="257.90" class="yl">0.02</text>
<line x1="457.10" y1="235.85" x2="599.60" y2="235.85" stroke="#bababa" stroke-width="1.1"/>
<text x="455.10" y="240.05" class="yl">0.03</text>
<line x1="457.10" y1="218.00" x2="599.60" y2="218.00" stroke="#bababa" stroke-width="1.1"/>
<text x="455.10" y="222.20" class="yl">0.04</text>
<line x1="457.10" y1="200.15" x2="599.60" y2="200.15" stroke="#bababa" stroke-width="1.1"/>
<text x="455.10" y="204.35" class="yl">0.05</text>
<line x1="457.10" y1="182.30" x2="599.60" y2="182.30" stroke="#bababa" stroke-width="1.1"/>
<text x="455.10" y="186.50" class="yl">0.06</text>
<line x1="459.60" y1="182.30" x2="459.60" y2="291.90" stroke="#b8b8b8" stroke-width="1"/>
<line x1="459.60" y1="289.40" x2="459.60" y2="292.20" stroke="#c0c0c0" stroke-width="0.9"/>
<line x1="464.12" y1="289.40" x2="464.12" y2="292.20" stroke="#c0c0c0" stroke-width="0.9"/>
<line x1="468.63" y1="289.40" x2="468.63" y2="292.20" stroke="#c0c0c0" stroke-width="0.9"/>
<line x1="473.15" y1="289.40" x2="473.15" y2="292.20" stroke="#c0c0c0" stroke-width="0.9"/>
<line x1="477.66" y1="289.40" x2="477.66" y2="292.20" stroke="#c0c0c0" stroke-width="0.9"/>
<line x1="482.18" y1="289.40" x2="482.18" y2="292.20" stroke="#c0c0c0" stroke-width="0.9"/>
<line x1="486.70" y1="289.40" x2="486.70" y2="292.20" stroke="#c0c0c0" stroke-width="0.9"/>
<line x1="491.21" y1="289.40" x2="491.21" y2="292.20" stroke="#c0c0c0" stroke-width="0.9"/>
<line x1="495.73" y1="289.40" x2="495.73" y2="292.20" stroke="#c0c0c0" stroke-width="0.9"/>
<line x1="500.25" y1="289.40" x2="500.25" y2="292.20" stroke="#c0c0c0" stroke-width="0.9"/>
<line x1="504.76" y1="289.40" x2="504.76" y2="292.20" stroke="#c0c0c0" stroke-width="0.9"/>
<line x1="509.28" y1="289.40" x2="509.28" y2="292.20" stroke="#c0c0c0" stroke-width="0.9"/>
<line x1="513.79" y1="289.40" x2="513.79" y2="292.20" stroke="#c0c0c0" stroke-width="0.9"/>
<line x1="518.31" y1="289.40" x2="518.31" y2="292.20" stroke="#c0c0c0" stroke-width="0.9"/>
<line x1="522.83" y1="289.40" x2="522.83" y2="292.20" stroke="#c0c0c0" stroke-width="0.9"/>
<line x1="527.34" y1="289.40" x2="527.34" y2="292.20" stroke="#c0c0c0" stroke-width="0.9"/>
<line x1="531.86" y1="289.40" x2="531.86" y2="292.20" stroke="#c0c0c0" stroke-width="0.9"/>
<line x1="536.37" y1="289.40" x2="536.37" y2="292.20" stroke="#c0c0c0" stroke-width="0.9"/>
<line x1="540.89" y1="289.40" x2="540.89" y2="292.20" stroke="#c0c0c0" stroke-width="0.9"/>
<line x1="545.41" y1="289.40" x2="545.41" y2="292.20" stroke="#c0c0c0" stroke-width="0.9"/>
<line x1="549.92" y1="289.40" x2="549.92" y2="292.20" stroke="#c0c0c0" stroke-width="0.9"/>
<line x1="554.44" y1="289.40" x2="554.44" y2="292.20" stroke="#c0c0c0" stroke-width="0.9"/>
<line x1="558.95" y1="289.40" x2="558.95" y2="292.20" stroke="#c0c0c0" stroke-width="0.9"/>
<line x1="563.47" y1="289.40" x2="563.47" y2="292.20" stroke="#c0c0c0" stroke-width="0.9"/>
<line x1="567.99" y1="289.40" x2="567.99" y2="292.20" stroke="#c0c0c0" stroke-width="0.9"/>
<line x1="572.50" y1="289.40" x2="572.50" y2="292.20" stroke="#c0c0c0" stroke-width="0.9"/>
<line x1="577.02" y1="289.40" x2="577.02" y2="292.20" stroke="#c0c0c0" stroke-width="0.9"/>
<line x1="581.54" y1="289.40" x2="581.54" y2="292.20" stroke="#c0c0c0" stroke-width="0.9"/>
<line x1="586.05" y1="289.40" x2="586.05" y2="292.20" stroke="#c0c0c0" stroke-width="0.9"/>
<line x1="590.57" y1="289.40" x2="590.57" y2="292.20" stroke="#c0c0c0" stroke-width="0.9"/>
<line x1="595.08" y1="289.40" x2="595.08" y2="292.20" stroke="#c0c0c0" stroke-width="0.9"/>
<line x1="599.60" y1="289.40" x2="599.60" y2="292.20" stroke="#c0c0c0" stroke-width="0.9"/>
<text x="461.86" y="302.60" class="xl">0</text>
<text x="484.44" y="302.60" class="xl">5</text>
<text x="507.02" y="302.60" class="xl">10</text>
<text x="529.60" y="302.60" class="xl">15</text>
<text x="552.18" y="302.60" class="xl">20</text>
<text x="574.76" y="302.60" class="xl">25</text>
<text x="597.34" y="302.60" class="xl">30</text>
<polyline points="461.86,289.40 466.37,289.40 470.89,289.40 475.41,289.22 479.92,288.69 484.44,287.44 488.95,286.19 493.47,285.12 497.99,284.04 502.50,284.04 507.02,283.33 511.54,282.62 516.05,282.26 520.57,282.97 525.08,284.76 529.60,286.19 534.12,287.08 538.63,287.08 543.15,287.97 547.66,288.51 552.18,289.04 556.70,289.40 561.21,289.40 565.73,289.40 570.25,289.40 574.76,289.40 579.28,289.40 583.79,289.40 588.31,289.40 592.83,289.40 597.34,289.40" fill="none" stroke="#5673b2" stroke-width="1.55" stroke-linejoin="round"/>
<polyline points="461.86,289.40 466.37,289.40 470.89,289.40 475.41,289.22 479.92,288.51 484.44,286.90 488.95,285.65 493.47,284.58 497.99,283.51 502.50,283.51 507.02,282.80 511.54,282.08 516.05,281.72 520.57,282.44 525.08,284.22 529.60,285.65 534.12,286.54 538.63,286.54 543.15,287.61 547.66,288.33 552.18,288.86 556.70,289.22 561.21,289.40 565.73,289.40 570.25,289.40 574.76,289.40 579.28,289.40 583.79,289.40 588.31,289.40 592.83,289.40 597.34,289.40" fill="none" stroke="#5fb6d4" stroke-width="1.55" stroke-linejoin="round"/>
<polyline points="461.86,289.40 466.37,289.22 470.89,288.51 475.41,286.90 479.92,282.26 484.44,276.73 488.95,262.62 493.47,246.56 497.99,229.78 502.50,224.07 507.02,217.64 511.54,209.07 516.05,203.54 520.57,211.93 525.08,227.82 529.60,247.63 534.12,256.91 538.63,266.37 543.15,273.87 547.66,280.47 552.18,285.47 556.70,287.26 561.21,288.33 565.73,288.86 570.25,289.04 574.76,289.40 579.28,289.40 583.79,289.40 588.31,289.40 592.83,289.40 597.34,289.40" fill="none" stroke="#313079" stroke-width="1.55" stroke-linejoin="round"/>
<polyline points="461.86,289.40 466.37,289.40 470.89,289.40 475.41,289.40 479.92,289.40 484.44,289.40 488.95,289.40 493.47,289.40 497.99,289.40 502.50,289.40 507.02,289.40 511.54,289.40 516.05,289.40 520.57,289.40 525.08,289.40 529.60,289.40 534.12,289.40 538.63,289.40 543.15,289.40 547.66,289.40 552.18,289.40 556.70,289.40 561.21,289.40 565.73,289.40 570.25,289.40 574.76,289.40 579.28,289.40 583.79,289.40 588.31,289.40 592.83,289.40 597.34,289.40" fill="none" stroke="#efab5c" stroke-width="1.55" stroke-linejoin="round"/>
<polyline points="461.86,289.04 466.37,289.04 470.89,289.04 475.41,289.04 479.92,289.04 484.44,289.04 488.95,289.04 493.47,289.04 497.99,289.04 502.50,289.04 507.02,289.04 511.54,289.04 516.05,289.04 520.57,289.04 525.08,289.04 529.60,289.04 534.12,289.04 538.63,289.04 543.15,289.04 547.66,289.04 552.18,289.04 556.70,289.04 561.21,289.04 565.73,289.04 570.25,289.04 574.76,289.04 579.28,289.04 583.79,289.04 588.31,289.04 592.83,289.04 597.34,289.04" fill="none" stroke="#cc6258" stroke-width="1.55" stroke-linejoin="round"/>
<line x1="459.60" y1="289.40" x2="599.60" y2="289.40" stroke="#d8c8c8" stroke-width="1.0" opacity="0.5"/>
<text x="533.75" y="174.85" class="tt" textLength="93.40" lengthAdjust="spacingAndGlyphs">LepSat07-28</text>
<text x="438.10" y="168.90" class="lt">g</text>
<line x1="647.10" y1="289.40" x2="790.25" y2="289.40" stroke="#bababa" stroke-width="1.1"/>
<text x="645.10" y="293.60" class="yl">0.0000</text>
<line x1="647.10" y1="276.01" x2="790.25" y2="276.01" stroke="#bababa" stroke-width="1.1"/>
<text x="645.10" y="280.21" class="yl">0.0025</text>
<line x1="647.10" y1="262.62" x2="790.25" y2="262.62" stroke="#bababa" stroke-width="1.1"/>
<text x="645.10" y="266.82" class="yl">0.0050</text>
<line x1="647.10" y1="249.24" x2="790.25" y2="249.24" stroke="#bababa" stroke-width="1.1"/>
<text x="645.10" y="253.44" class="yl">0.0075</text>
<line x1="647.10" y1="235.85" x2="790.25" y2="235.85" stroke="#bababa" stroke-width="1.1"/>
<text x="645.10" y="240.05" class="yl">0.0100</text>
<line x1="647.10" y1="222.46" x2="790.25" y2="222.46" stroke="#bababa" stroke-width="1.1"/>
<text x="645.10" y="226.66" class="yl">0.0125</text>
<line x1="647.10" y1="209.07" x2="790.25" y2="209.07" stroke="#bababa" stroke-width="1.1"/>
<text x="645.10" y="213.27" class="yl">0.0150</text>
<line x1="647.10" y1="195.69" x2="790.25" y2="195.69" stroke="#bababa" stroke-width="1.1"/>
<text x="645.10" y="199.89" class="yl">0.0175</text>
<line x1="647.10" y1="182.30" x2="790.25" y2="182.30" stroke="#bababa" stroke-width="1.1"/>
<text x="645.10" y="186.50" class="yl">0.0200</text>
<line x1="649.60" y1="182.30" x2="649.60" y2="291.90" stroke="#b8b8b8" stroke-width="1"/>
<line x1="649.60" y1="289.40" x2="649.60" y2="292.20" stroke="#c0c0c0" stroke-width="0.9"/>
<line x1="654.14" y1="289.40" x2="654.14" y2="292.20" stroke="#c0c0c0" stroke-width="0.9"/>
<line x1="658.67" y1="289.40" x2="658.67" y2="292.20" stroke="#c0c0c0" stroke-width="0.9"/>
<line x1="663.21" y1="289.40" x2="663.21" y2="292.20" stroke="#c0c0c0" stroke-width="0.9"/>
<line x1="667.75" y1="289.40" x2="667.75" y2="292.20" stroke="#c0c0c0" stroke-width="0.9"/>
<line x1="672.29" y1="289.40" x2="672.29" y2="292.20" stroke="#c0c0c0" stroke-width="0.9"/>
<line x1="676.82" y1="289.40" x2="676.82" y2="292.20" stroke="#c0c0c0" stroke-width="0.9"/>
<line x1="681.36" y1="289.40" x2="681.36" y2="292.20" stroke="#c0c0c0" stroke-width="0.9"/>
<line x1="685.90" y1="289.40" x2="685.90" y2="292.20" stroke="#c0c0c0" stroke-width="0.9"/>
<line x1="690.43" y1="289.40" x2="690.43" y2="292.20" stroke="#c0c0c0" stroke-width="0.9"/>
<line x1="694.97" y1="289.40" x2="694.97" y2="292.20" stroke="#c0c0c0" stroke-width="0.9"/>
<line x1="699.51" y1="289.40" x2="699.51" y2="292.20" stroke="#c0c0c0" stroke-width="0.9"/>
<line x1="704.05" y1="289.40" x2="704.05" y2="292.20" stroke="#c0c0c0" stroke-width="0.9"/>
<line x1="708.58" y1="289.40" x2="708.58" y2="292.20" stroke="#c0c0c0" stroke-width="0.9"/>
<line x1="713.12" y1="289.40" x2="713.12" y2="292.20" stroke="#c0c0c0" stroke-width="0.9"/>
<line x1="717.66" y1="289.40" x2="717.66" y2="292.20" stroke="#c0c0c0" stroke-width="0.9"/>
<line x1="722.19" y1="289.40" x2="722.19" y2="292.20" stroke="#c0c0c0" stroke-width="0.9"/>
<line x1="726.73" y1="289.40" x2="726.73" y2="292.20" stroke="#c0c0c0" stroke-width="0.9"/>
<line x1="731.27" y1="289.40" x2="731.27" y2="292.20" stroke="#c0c0c0" stroke-width="0.9"/>
<line x1="735.80" y1="289.40" x2="735.80" y2="292.20" stroke="#c0c0c0" stroke-width="0.9"/>
<line x1="740.34" y1="289.40" x2="740.34" y2="292.20" stroke="#c0c0c0" stroke-width="0.9"/>
<line x1="744.88" y1="289.40" x2="744.88" y2="292.20" stroke="#c0c0c0" stroke-width="0.9"/>
<line x1="749.42" y1="289.40" x2="749.42" y2="292.20" stroke="#c0c0c0" stroke-width="0.9"/>
<line x1="753.95" y1="289.40" x2="753.95" y2="292.20" stroke="#c0c0c0" stroke-width="0.9"/>
<line x1="758.49" y1="289.40" x2="758.49" y2="292.20" stroke="#c0c0c0" stroke-width="0.9"/>
<line x1="763.03" y1="289.40" x2="763.03" y2="292.20" stroke="#c0c0c0" stroke-width="0.9"/>
<line x1="767.56" y1="289.40" x2="767.56" y2="292.20" stroke="#c0c0c0" stroke-width="0.9"/>
<line x1="772.10" y1="289.40" x2="772.10" y2="292.20" stroke="#c0c0c0" stroke-width="0.9"/>
<line x1="776.64" y1="289.40" x2="776.64" y2="292.20" stroke="#c0c0c0" stroke-width="0.9"/>
<line x1="781.18" y1="289.40" x2="781.18" y2="292.20" stroke="#c0c0c0" stroke-width="0.9"/>
<line x1="785.71" y1="289.40" x2="785.71" y2="292.20" stroke="#c0c0c0" stroke-width="0.9"/>
<line x1="790.25" y1="289.40" x2="790.25" y2="292.20" stroke="#c0c0c0" stroke-width="0.9"/>
<text x="651.87" y="302.60" class="xl">0</text>
<text x="674.55" y="302.60" class="xl">5</text>
<text x="697.24" y="302.60" class="xl">10</text>
<text x="719.92" y="302.60" class="xl">15</text>
<text x="742.61" y="302.60" class="xl">20</text>
<text x="765.30" y="302.60" class="xl">25</text>
<text x="787.98" y="302.60" class="xl">30</text>
<polyline points="651.87,286.72 656.41,285.12 660.94,282.97 665.48,282.44 670.02,278.69 674.55,278.15 679.09,280.30 683.63,282.44 688.17,284.58 692.70,286.72 697.24,287.79 701.78,288.33 706.31,288.86 710.85,289.40 715.39,289.40 719.92,289.40 724.46,289.40 729.00,289.40 733.54,289.40 738.07,289.40 742.61,289.40 747.15,289.40 751.68,289.40 756.22,289.40 760.76,289.40 765.30,289.40 769.83,289.40 774.37,289.40 778.91,289.40 783.44,289.40 787.98,289.40" fill="none" stroke="#5673b2" stroke-width="1.55" stroke-linejoin="round"/>
<polyline points="651.87,288.86 656.41,287.79 660.94,287.26 665.48,286.19 670.02,285.65 674.55,286.19 679.09,286.72 683.63,287.26 688.17,287.79 692.70,288.86 697.24,289.40 701.78,289.40 706.31,289.40 710.85,289.40 715.39,289.40 719.92,289.40 724.46,289.40 729.00,289.40 733.54,289.40 738.07,289.40 742.61,289.40 747.15,289.40 751.68,289.40 756.22,289.40 760.76,289.40 765.30,289.40 769.83,289.40 774.37,289.40 778.91,289.40 783.44,289.40 787.98,289.40" fill="none" stroke="#5fb6d4" stroke-width="1.55" stroke-linejoin="round"/>
<polyline points="651.87,272.80 656.41,249.24 660.94,223.00 665.48,206.40 670.02,191.40 674.55,204.26 679.09,225.14 683.63,251.38 688.17,264.23 692.70,273.87 697.24,280.30 701.78,282.97 706.31,284.04 710.85,286.19 715.39,287.26 719.92,288.33 724.46,288.86 729.00,289.40 733.54,289.40 738.07,289.40 742.61,289.40 747.15,289.40 751.68,289.40 756.22,289.40 760.76,289.40 765.30,289.40 769.83,289.40 774.37,289.40 778.91,289.40 783.44,289.40 787.98,289.40" fill="none" stroke="#313079" stroke-width="1.55" stroke-linejoin="round"/>
<polyline points="651.87,287.79 656.41,287.26 660.94,286.72 665.48,286.72 670.02,286.19 674.55,287.26 679.09,288.33 683.63,288.86 688.17,289.40 692.70,289.40 697.24,289.40 701.78,289.40 706.31,289.40 710.85,289.40 715.39,289.40 719.92,289.40 724.46,289.40 729.00,289.40 733.54,289.40 738.07,289.40 742.61,289.40 747.15,289.40 751.68,289.40 756.22,289.40 760.76,289.40 765.30,289.40 769.83,289.40 774.37,289.40 778.91,289.40 783.44,289.40 787.98,289.40" fill="none" stroke="#efab5c" stroke-width="1.55" stroke-linejoin="round"/>
<polyline points="651.87,286.19 656.41,282.44 660.94,249.24 665.48,236.39 670.02,203.72 674.55,217.64 679.09,213.89 683.63,228.89 688.17,254.06 692.70,259.95 697.24,275.48 701.78,282.97 706.31,286.72 710.85,288.33 715.39,288.86 719.92,289.40 724.46,289.40 729.00,289.40 733.54,289.40 738.07,289.40 742.61,289.40 747.15,289.40 751.68,289.40 756.22,289.40 760.76,289.40 765.30,289.40 769.83,289.40 774.37,289.40 778.91,289.40 783.44,289.40 787.98,289.40" fill="none" stroke="#cc6258" stroke-width="1.55" stroke-linejoin="round"/>
<line x1="649.60" y1="289.40" x2="790.25" y2="289.40" stroke="#d8c8c8" stroke-width="1.0" opacity="0.5"/>
<text x="720.25" y="174.85" class="tt" textLength="102.40" lengthAdjust="spacingAndGlyphs">LepSat08-100</text>
<text x="628.85" y="173.70" class="lt">h</text>
<line x1="77.25" y1="441.60" x2="220.25" y2="441.60" stroke="#bababa" stroke-width="1.1"/>
<text x="75.25" y="445.80" class="yl">0.0000</text>
<line x1="77.25" y1="430.88" x2="220.25" y2="430.88" stroke="#bababa" stroke-width="1.1"/>
<text x="75.25" y="435.08" class="yl">0.0005</text>
<line x1="77.25" y1="420.16" x2="220.25" y2="420.16" stroke="#bababa" stroke-width="1.1"/>
<text x="75.25" y="424.36" class="yl">0.0010</text>
<line x1="77.25" y1="409.44" x2="220.25" y2="409.44" stroke="#bababa" stroke-width="1.1"/>
<text x="75.25" y="413.64" class="yl">0.0015</text>
<line x1="77.25" y1="398.72" x2="220.25" y2="398.72" stroke="#bababa" stroke-width="1.1"/>
<text x="75.25" y="402.92" class="yl">0.0020</text>
<line x1="77.25" y1="388.00" x2="220.25" y2="388.00" stroke="#bababa" stroke-width="1.1"/>
<text x="75.25" y="392.20" class="yl">0.0025</text>
<line x1="77.25" y1="377.28" x2="220.25" y2="377.28" stroke="#bababa" stroke-width="1.1"/>
<text x="75.25" y="381.48" class="yl">0.0030</text>
<line x1="77.25" y1="366.56" x2="220.25" y2="366.56" stroke="#bababa" stroke-width="1.1"/>
<text x="75.25" y="370.76" class="yl">0.0035</text>
<line x1="77.25" y1="355.84" x2="220.25" y2="355.84" stroke="#bababa" stroke-width="1.1"/>
<text x="75.25" y="360.04" class="yl">0.0040</text>
<line x1="77.25" y1="345.12" x2="220.25" y2="345.12" stroke="#bababa" stroke-width="1.1"/>
<text x="75.25" y="349.32" class="yl">0.0045</text>
<line x1="77.25" y1="334.40" x2="220.25" y2="334.40" stroke="#bababa" stroke-width="1.1"/>
<text x="75.25" y="338.60" class="yl">0.0050</text>
<line x1="79.75" y1="334.40" x2="79.75" y2="444.10" stroke="#b8b8b8" stroke-width="1"/>
<line x1="79.75" y1="441.60" x2="79.75" y2="444.40" stroke="#c0c0c0" stroke-width="0.9"/>
<line x1="84.28" y1="441.60" x2="84.28" y2="444.40" stroke="#c0c0c0" stroke-width="0.9"/>
<line x1="88.81" y1="441.60" x2="88.81" y2="444.40" stroke="#c0c0c0" stroke-width="0.9"/>
<line x1="93.35" y1="441.60" x2="93.35" y2="444.40" stroke="#c0c0c0" stroke-width="0.9"/>
<line x1="97.88" y1="441.60" x2="97.88" y2="444.40" stroke="#c0c0c0" stroke-width="0.9"/>
<line x1="102.41" y1="441.60" x2="102.41" y2="444.40" stroke="#c0c0c0" stroke-width="0.9"/>
<line x1="106.94" y1="441.60" x2="106.94" y2="444.40" stroke="#c0c0c0" stroke-width="0.9"/>
<line x1="111.48" y1="441.60" x2="111.48" y2="444.40" stroke="#c0c0c0" stroke-width="0.9"/>
<line x1="116.01" y1="441.60" x2="116.01" y2="444.40" stroke="#c0c0c0" stroke-width="0.9"/>
<line x1="120.54" y1="441.60" x2="120.54" y2="444.40" stroke="#c0c0c0" stroke-width="0.9"/>
<line x1="125.07" y1="441.60" x2="125.07" y2="444.40" stroke="#c0c0c0" stroke-width="0.9"/>
<line x1="129.60" y1="441.60" x2="129.60" y2="444.40" stroke="#c0c0c0" stroke-width="0.9"/>
<line x1="134.14" y1="441.60" x2="134.14" y2="444.40" stroke="#c0c0c0" stroke-width="0.9"/>
<line x1="138.67" y1="441.60" x2="138.67" y2="444.40" stroke="#c0c0c0" stroke-width="0.9"/>
<line x1="143.20" y1="441.60" x2="143.20" y2="444.40" stroke="#c0c0c0" stroke-width="0.9"/>
<line x1="147.73" y1="441.60" x2="147.73" y2="444.40" stroke="#c0c0c0" stroke-width="0.9"/>
<line x1="152.27" y1="441.60" x2="152.27" y2="444.40" stroke="#c0c0c0" stroke-width="0.9"/>
<line x1="156.80" y1="441.60" x2="156.80" y2="444.40" stroke="#c0c0c0" stroke-width="0.9"/>
<line x1="161.33" y1="441.60" x2="161.33" y2="444.40" stroke="#c0c0c0" stroke-width="0.9"/>
<line x1="165.86" y1="441.60" x2="165.86" y2="444.40" stroke="#c0c0c0" stroke-width="0.9"/>
<line x1="170.40" y1="441.60" x2="170.40" y2="444.40" stroke="#c0c0c0" stroke-width="0.9"/>
<line x1="174.93" y1="441.60" x2="174.93" y2="444.40" stroke="#c0c0c0" stroke-width="0.9"/>
<line x1="179.46" y1="441.60" x2="179.46" y2="444.40" stroke="#c0c0c0" stroke-width="0.9"/>
<line x1="183.99" y1="441.60" x2="183.99" y2="444.40" stroke="#c0c0c0" stroke-width="0.9"/>
<line x1="188.52" y1="441.60" x2="188.52" y2="444.40" stroke="#c0c0c0" stroke-width="0.9"/>
<line x1="193.06" y1="441.60" x2="193.06" y2="444.40" stroke="#c0c0c0" stroke-width="0.9"/>
<line x1="197.59" y1="441.60" x2="197.59" y2="444.40" stroke="#c0c0c0" stroke-width="0.9"/>
<line x1="202.12" y1="441.60" x2="202.12" y2="444.40" stroke="#c0c0c0" stroke-width="0.9"/>
<line x1="206.65" y1="441.60" x2="206.65" y2="444.40" stroke="#c0c0c0" stroke-width="0.9"/>
<line x1="211.19" y1="441.60" x2="211.19" y2="444.40" stroke="#c0c0c0" stroke-width="0.9"/>
<line x1="215.72" y1="441.60" x2="215.72" y2="444.40" stroke="#c0c0c0" stroke-width="0.9"/>
<line x1="220.25" y1="441.60" x2="220.25" y2="444.40" stroke="#c0c0c0" stroke-width="0.9"/>
<text x="82.02" y="454.80" class="xl">0</text>
<text x="104.68" y="454.80" class="xl">5</text>
<text x="127.34" y="454.80" class="xl">10</text>
<text x="150.00" y="454.80" class="xl">15</text>
<text x="172.66" y="454.80" class="xl">20</text>
<text x="195.32" y="454.80" class="xl">25</text>
<text x="217.98" y="454.80" class="xl">30</text>
<polyline points="82.02,440.10 86.55,438.81 91.08,436.24 95.61,433.02 100.15,425.95 104.68,422.30 109.21,405.15 113.74,393.15 118.27,375.14 122.81,366.56 127.34,360.13 131.87,368.70 136.40,351.55 140.94,342.98 145.47,353.70 150.00,364.42 154.53,388.00 159.06,413.73 163.60,421.23 168.13,429.81 172.66,435.17 177.19,438.17 181.73,440.10 186.26,440.96 190.79,441.60 195.32,441.60 199.85,441.60 204.39,441.60 208.92,441.60 213.45,441.60 217.98,441.60" fill="none" stroke="#5673b2" stroke-width="1.55" stroke-linejoin="round"/>
<polyline points="82.02,440.96 86.55,439.03 91.08,436.24 95.61,433.02 100.15,428.74 104.68,422.30 109.21,413.73 113.74,405.15 118.27,400.86 122.81,398.72 127.34,403.01 131.87,416.73 136.40,405.15 140.94,400.86 145.47,405.15 150.00,416.73 154.53,427.88 159.06,432.60 163.60,432.60 168.13,436.24 172.66,439.46 177.19,440.74 181.73,441.60 186.26,441.60 190.79,441.60 195.32,441.60 199.85,441.60 204.39,441.60 208.92,441.60 213.45,441.60 217.98,441.60" fill="none" stroke="#5fb6d4" stroke-width="1.55" stroke-linejoin="round"/>
<polyline points="82.02,440.74 86.55,439.03 91.08,436.88 95.61,432.60 100.15,427.88 104.68,424.45 109.21,409.44 113.74,400.86 118.27,392.29 122.81,385.86 127.34,383.71 131.87,390.14 136.40,383.71 140.94,377.28 145.47,383.71 150.00,390.14 154.53,398.72 159.06,415.87 163.60,415.87 168.13,425.09 172.66,432.60 177.19,437.31 181.73,439.46 186.26,440.74 190.79,441.60 195.32,441.60 199.85,441.60 204.39,441.60 208.92,441.60 213.45,441.60 217.98,441.60" fill="none" stroke="#313079" stroke-width="1.55" stroke-linejoin="round"/>
<polyline points="82.02,440.96 86.55,437.31 91.08,431.74 95.61,429.81 100.15,416.94 104.68,422.30 109.21,396.58 113.74,390.14 118.27,392.29 122.81,366.56 127.34,381.57 131.87,403.01 136.40,398.72 140.94,396.58 145.47,420.16 150.00,427.88 154.53,432.60 159.06,434.52 163.60,438.81 168.13,439.46 172.66,440.96 177.19,441.60 181.73,441.60 186.26,441.60 190.79,441.60 195.32,441.60 199.85,441.60 204.39,441.60 208.92,441.60 213.45,441.60 217.98,441.60" fill="none" stroke="#efab5c" stroke-width="1.55" stroke-linejoin="round"/>
<polyline points="82.02,440.96 86.55,439.03 91.08,436.24 95.61,433.45 100.15,427.88 104.68,425.95 109.21,409.44 113.74,403.01 118.27,396.58 122.81,370.85 127.34,357.98 131.87,370.85 136.40,345.12 140.94,345.12 145.47,385.86 150.00,409.44 154.53,415.87 159.06,418.02 163.60,432.60 168.13,437.31 172.66,439.46 177.19,440.74 181.73,441.60 186.26,441.60 190.79,441.60 195.32,441.60 199.85,441.60 204.39,441.60 208.92,441.60 213.45,441.60 217.98,441.60" fill="none" stroke="#cc6258" stroke-width="1.55" stroke-linejoin="round"/>
<line x1="79.75" y1="441.60" x2="220.25" y2="441.60" stroke="#d8c8c8" stroke-width="1.0" opacity="0.5"/>
<text x="152.50" y="326.60" class="tt" textLength="94.40" lengthAdjust="spacingAndGlyphs">LepSat09-23</text>
<text x="65.50" y="327.45" class="lt">i</text>
<line x1="266.90" y1="441.60" x2="407.50" y2="441.60" stroke="#bababa" stroke-width="1.1"/>
<text x="264.90" y="445.80" class="yl">0.000</text>
<line x1="266.90" y1="428.20" x2="407.50" y2="428.20" stroke="#bababa" stroke-width="1.1"/>
<text x="264.90" y="432.40" class="yl">0.002</text>
<line x1="266.90" y1="414.80" x2="407.50" y2="414.80" stroke="#bababa" stroke-width="1.1"/>
<text x="264.90" y="419.00" class="yl">0.004</text>
<line x1="266.90" y1="401.40" x2="407.50" y2="401.40" stroke="#bababa" stroke-width="1.1"/>
<text x="264.90" y="405.60" class="yl">0.006</text>
<line x1="266.90" y1="388.00" x2="407.50" y2="388.00" stroke="#bababa" stroke-width="1.1"/>
<text x="264.90" y="392.20" class="yl">0.008</text>
<line x1="266.90" y1="374.60" x2="407.50" y2="374.60" stroke="#bababa" stroke-width="1.1"/>
<text x="264.90" y="378.80" class="yl">0.010</text>
<line x1="266.90" y1="361.20" x2="407.50" y2="361.20" stroke="#bababa" stroke-width="1.1"/>
<text x="264.90" y="365.40" class="yl">0.012</text>
<line x1="266.90" y1="347.80" x2="407.50" y2="347.80" stroke="#bababa" stroke-width="1.1"/>
<text x="264.90" y="352.00" class="yl">0.014</text>
<line x1="266.90" y1="334.40" x2="407.50" y2="334.40" stroke="#bababa" stroke-width="1.1"/>
<text x="264.90" y="338.60" class="yl">0.016</text>
<line x1="269.40" y1="334.40" x2="269.40" y2="444.10" stroke="#b8b8b8" stroke-width="1"/>
<line x1="269.40" y1="441.60" x2="269.40" y2="444.40" stroke="#c0c0c0" stroke-width="0.9"/>
<line x1="273.85" y1="441.60" x2="273.85" y2="444.40" stroke="#c0c0c0" stroke-width="0.9"/>
<line x1="278.31" y1="441.60" x2="278.31" y2="444.40" stroke="#c0c0c0" stroke-width="0.9"/>
<line x1="282.76" y1="441.60" x2="282.76" y2="444.40" stroke="#c0c0c0" stroke-width="0.9"/>
<line x1="287.22" y1="441.60" x2="287.22" y2="444.40" stroke="#c0c0c0" stroke-width="0.9"/>
<line x1="291.67" y1="441.60" x2="291.67" y2="444.40" stroke="#c0c0c0" stroke-width="0.9"/>
<line x1="296.13" y1="441.60" x2="296.13" y2="444.40" stroke="#c0c0c0" stroke-width="0.9"/>
<line x1="300.58" y1="441.60" x2="300.58" y2="444.40" stroke="#c0c0c0" stroke-width="0.9"/>
<line x1="305.04" y1="441.60" x2="305.04" y2="444.40" stroke="#c0c0c0" stroke-width="0.9"/>
<line x1="309.49" y1="441.60" x2="309.49" y2="444.40" stroke="#c0c0c0" stroke-width="0.9"/>
<line x1="313.95" y1="441.60" x2="313.95" y2="444.40" stroke="#c0c0c0" stroke-width="0.9"/>
<line x1="318.40" y1="441.60" x2="318.40" y2="444.40" stroke="#c0c0c0" stroke-width="0.9"/>
<line x1="322.86" y1="441.60" x2="322.86" y2="444.40" stroke="#c0c0c0" stroke-width="0.9"/>
<line x1="327.31" y1="441.60" x2="327.31" y2="444.40" stroke="#c0c0c0" stroke-width="0.9"/>
<line x1="331.77" y1="441.60" x2="331.77" y2="444.40" stroke="#c0c0c0" stroke-width="0.9"/>
<line x1="336.22" y1="441.60" x2="336.22" y2="444.40" stroke="#c0c0c0" stroke-width="0.9"/>
<line x1="340.68" y1="441.60" x2="340.68" y2="444.40" stroke="#c0c0c0" stroke-width="0.9"/>
<line x1="345.13" y1="441.60" x2="345.13" y2="444.40" stroke="#c0c0c0" stroke-width="0.9"/>
<line x1="349.59" y1="441.60" x2="349.59" y2="444.40" stroke="#c0c0c0" stroke-width="0.9"/>
<line x1="354.04" y1="441.60" x2="354.04" y2="444.40" stroke="#c0c0c0" stroke-width="0.9"/>
<line x1="358.50" y1="441.60" x2="358.50" y2="444.40" stroke="#c0c0c0" stroke-width="0.9"/>
<line x1="362.95" y1="441.60" x2="362.95" y2="444.40" stroke="#c0c0c0" stroke-width="0.9"/>
<line x1="367.41" y1="441.60" x2="367.41" y2="444.40" stroke="#c0c0c0" stroke-width="0.9"/>
<line x1="371.86" y1="441.60" x2="371.86" y2="444.40" stroke="#c0c0c0" stroke-width="0.9"/>
<line x1="376.32" y1="441.60" x2="376.32" y2="444.40" stroke="#c0c0c0" stroke-width="0.9"/>
<line x1="380.77" y1="441.60" x2="380.77" y2="444.40" stroke="#c0c0c0" stroke-width="0.9"/>
<line x1="385.23" y1="441.60" x2="385.23" y2="444.40" stroke="#c0c0c0" stroke-width="0.9"/>
<line x1="389.68" y1="441.60" x2="389.68" y2="444.40" stroke="#c0c0c0" stroke-width="0.9"/>
<line x1="394.14" y1="441.60" x2="394.14" y2="444.40" stroke="#c0c0c0" stroke-width="0.9"/>
<line x1="398.59" y1="441.60" x2="398.59" y2="444.40" stroke="#c0c0c0" stroke-width="0.9"/>
<line x1="403.05" y1="441.60" x2="403.05" y2="444.40" stroke="#c0c0c0" stroke-width="0.9"/>
<line x1="407.50" y1="441.60" x2="407.50" y2="444.40" stroke="#c0c0c0" stroke-width="0.9"/>
<text x="271.63" y="454.80" class="xl">0</text>
<text x="293.90" y="454.80" class="xl">5</text>
<text x="316.18" y="454.80" class="xl">10</text>
<text x="338.45" y="454.80" class="xl">15</text>
<text x="360.72" y="454.80" class="xl">20</text>
<text x="383.00" y="454.80" class="xl">25</text>
<text x="405.27" y="454.80" class="xl">30</text>
<polyline points="271.63,357.85 276.08,386.66 280.54,405.42 284.99,429.54 289.45,438.25 293.90,440.26 298.36,441.06 302.81,441.60 307.27,441.60 311.72,441.60 316.18,441.60 320.63,441.60 325.09,441.60 329.54,441.60 334.00,441.60 338.45,441.60 342.90,441.60 347.36,441.60 351.81,441.60 356.27,441.60 360.72,441.60 365.18,441.60 369.63,441.60 374.09,441.60 378.54,441.60 383.00,441.60 387.45,441.60 391.91,441.60 396.36,441.60 400.82,441.60 405.27,441.60" fill="none" stroke="#5673b2" stroke-width="2.0" stroke-linejoin="round"/>
<polyline points="271.63,365.22 276.08,371.92 280.54,401.40 284.99,428.20 289.45,437.58 293.90,439.59 298.36,440.93 302.81,441.60 307.27,441.60 311.72,441.60 316.18,441.60 320.63,441.60 325.09,441.60 329.54,441.60 334.00,441.60 338.45,441.60 342.90,441.60 347.36,441.60 351.81,441.60 356.27,441.60 360.72,441.60 365.18,441.60 369.63,441.60 374.09,441.60 378.54,441.60 383.00,441.60 387.45,441.60 391.91,441.60 396.36,441.60 400.82,441.60 405.27,441.60" fill="none" stroke="#5fb6d4" stroke-width="2.0" stroke-linejoin="round"/>
<polyline points="271.63,349.81 276.08,394.03 280.54,412.79 284.99,432.89 289.45,438.92 293.90,440.66 298.36,441.27 302.81,441.60 307.27,441.60 311.72,441.60 316.18,441.60 320.63,441.60 325.09,441.60 329.54,441.60 334.00,441.60 338.45,441.60 342.90,441.60 347.36,441.60 351.81,441.60 356.27,441.60 360.72,441.60 365.18,441.60 369.63,441.60 374.09,441.60 378.54,441.60 383.00,441.60 387.45,441.60 391.91,441.60 396.36,441.60 400.82,441.60 405.27,441.60" fill="none" stroke="#313079" stroke-width="2.0" stroke-linejoin="round"/>
<polyline points="271.63,435.57 276.08,428.87 280.54,410.78 284.99,422.17 289.45,426.86 293.90,436.24 298.36,438.25 302.81,440.26 307.27,438.25 311.72,440.93 316.18,441.60 320.63,440.93 325.09,441.60 329.54,441.60 334.00,441.60 338.45,441.60 342.90,441.60 347.36,441.60 351.81,441.60 356.27,441.60 360.72,441.60 365.18,441.60 369.63,441.60 374.09,441.60 378.54,441.60 383.00,441.60 387.45,441.60 391.91,441.60 396.36,441.60 400.82,441.60 405.27,441.60" fill="none" stroke="#efab5c" stroke-width="2.0" stroke-linejoin="round"/>
<polyline points="271.63,422.17 276.08,422.17 280.54,406.09 284.99,424.85 289.45,438.92 293.90,440.93 298.36,441.60 302.81,441.60 307.27,441.60 311.72,441.60 316.18,441.60 320.63,441.60 325.09,441.60 329.54,441.60 334.00,441.60 338.45,441.60 342.90,441.60 347.36,441.60 351.81,441.60 356.27,441.60 360.72,441.60 365.18,441.60 369.63,441.60 374.09,441.60 378.54,441.60 383.00,441.60 387.45,441.60 391.91,441.60 396.36,441.60 400.82,441.60 405.27,441.60" fill="none" stroke="#cc6258" stroke-width="2.0" stroke-linejoin="round"/>
<line x1="269.40" y1="441.60" x2="407.50" y2="441.60" stroke="#d8c8c8" stroke-width="1.0" opacity="0.5"/>
<text x="338.75" y="326.60" class="tt" textLength="101.90" lengthAdjust="spacingAndGlyphs">LepSat10-691</text>
<text x="253.00" y="322.80" class="lt">j</text>
<line x1="459.10" y1="441.60" x2="602.50" y2="441.60" stroke="#bababa" stroke-width="1.1"/>
<text x="457.10" y="445.80" class="yl">0.000</text>
<line x1="459.10" y1="428.20" x2="602.50" y2="428.20" stroke="#bababa" stroke-width="1.1"/>
<text x="457.10" y="432.40" class="yl">0.001</text>
<line x1="459.10" y1="414.80" x2="602.50" y2="414.80" stroke="#bababa" stroke-width="1.1"/>
<text x="457.10" y="419.00" class="yl">0.002</text>
<line x1="459.10" y1="401.40" x2="602.50" y2="401.40" stroke="#bababa" stroke-width="1.1"/>
<text x="457.10" y="405.60" class="yl">0.003</text>
<line x1="459.10" y1="388.00" x2="602.50" y2="388.00" stroke="#bababa" stroke-width="1.1"/>
<text x="457.10" y="392.20" class="yl">0.004</text>
<line x1="459.10" y1="374.60" x2="602.50" y2="374.60" stroke="#bababa" stroke-width="1.1"/>
<text x="457.10" y="378.80" class="yl">0.005</text>
<line x1="459.10" y1="361.20" x2="602.50" y2="361.20" stroke="#bababa" stroke-width="1.1"/>
<text x="457.10" y="365.40" class="yl">0.006</text>
<line x1="459.10" y1="347.80" x2="602.50" y2="347.80" stroke="#bababa" stroke-width="1.1"/>
<text x="457.10" y="352.00" class="yl">0.007</text>
<line x1="459.10" y1="334.40" x2="602.50" y2="334.40" stroke="#bababa" stroke-width="1.1"/>
<text x="457.10" y="338.60" class="yl">0.008</text>
<line x1="461.60" y1="334.40" x2="461.60" y2="444.10" stroke="#b8b8b8" stroke-width="1"/>
<line x1="461.60" y1="441.60" x2="461.60" y2="444.40" stroke="#c0c0c0" stroke-width="0.9"/>
<line x1="466.15" y1="441.60" x2="466.15" y2="444.40" stroke="#c0c0c0" stroke-width="0.9"/>
<line x1="470.69" y1="441.60" x2="470.69" y2="444.40" stroke="#c0c0c0" stroke-width="0.9"/>
<line x1="475.24" y1="441.60" x2="475.24" y2="444.40" stroke="#c0c0c0" stroke-width="0.9"/>
<line x1="479.78" y1="441.60" x2="479.78" y2="444.40" stroke="#c0c0c0" stroke-width="0.9"/>
<line x1="484.33" y1="441.60" x2="484.33" y2="444.40" stroke="#c0c0c0" stroke-width="0.9"/>
<line x1="488.87" y1="441.60" x2="488.87" y2="444.40" stroke="#c0c0c0" stroke-width="0.9"/>
<line x1="493.42" y1="441.60" x2="493.42" y2="444.40" stroke="#c0c0c0" stroke-width="0.9"/>
<line x1="497.96" y1="441.60" x2="497.96" y2="444.40" stroke="#c0c0c0" stroke-width="0.9"/>
<line x1="502.51" y1="441.60" x2="502.51" y2="444.40" stroke="#c0c0c0" stroke-width="0.9"/>
<line x1="507.05" y1="441.60" x2="507.05" y2="444.40" stroke="#c0c0c0" stroke-width="0.9"/>
<line x1="511.60" y1="441.60" x2="511.60" y2="444.40" stroke="#c0c0c0" stroke-width="0.9"/>
<line x1="516.14" y1="441.60" x2="516.14" y2="444.40" stroke="#c0c0c0" stroke-width="0.9"/>
<line x1="520.69" y1="441.60" x2="520.69" y2="444.40" stroke="#c0c0c0" stroke-width="0.9"/>
<line x1="525.23" y1="441.60" x2="525.23" y2="444.40" stroke="#c0c0c0" stroke-width="0.9"/>
<line x1="529.78" y1="441.60" x2="529.78" y2="444.40" stroke="#c0c0c0" stroke-width="0.9"/>
<line x1="534.32" y1="441.60" x2="534.32" y2="444.40" stroke="#c0c0c0" stroke-width="0.9"/>
<line x1="538.87" y1="441.60" x2="538.87" y2="444.40" stroke="#c0c0c0" stroke-width="0.9"/>
<line x1="543.41" y1="441.60" x2="543.41" y2="444.40" stroke="#c0c0c0" stroke-width="0.9"/>
<line x1="547.96" y1="441.60" x2="547.96" y2="444.40" stroke="#c0c0c0" stroke-width="0.9"/>
<line x1="552.50" y1="441.60" x2="552.50" y2="444.40" stroke="#c0c0c0" stroke-width="0.9"/>
<line x1="557.05" y1="441.60" x2="557.05" y2="444.40" stroke="#c0c0c0" stroke-width="0.9"/>
<line x1="561.59" y1="441.60" x2="561.59" y2="444.40" stroke="#c0c0c0" stroke-width="0.9"/>
<line x1="566.14" y1="441.60" x2="566.14" y2="444.40" stroke="#c0c0c0" stroke-width="0.9"/>
<line x1="570.68" y1="441.60" x2="570.68" y2="444.40" stroke="#c0c0c0" stroke-width="0.9"/>
<line x1="575.23" y1="441.60" x2="575.23" y2="444.40" stroke="#c0c0c0" stroke-width="0.9"/>
<line x1="579.77" y1="441.60" x2="579.77" y2="444.40" stroke="#c0c0c0" stroke-width="0.9"/>
<line x1="584.32" y1="441.60" x2="584.32" y2="444.40" stroke="#c0c0c0" stroke-width="0.9"/>
<line x1="588.86" y1="441.60" x2="588.86" y2="444.40" stroke="#c0c0c0" stroke-width="0.9"/>
<line x1="593.41" y1="441.60" x2="593.41" y2="444.40" stroke="#c0c0c0" stroke-width="0.9"/>
<line x1="597.95" y1="441.60" x2="597.95" y2="444.40" stroke="#c0c0c0" stroke-width="0.9"/>
<line x1="602.50" y1="441.60" x2="602.50" y2="444.40" stroke="#c0c0c0" stroke-width="0.9"/>
<text x="463.87" y="454.80" class="xl">0</text>
<text x="486.60" y="454.80" class="xl">5</text>
<text x="509.32" y="454.80" class="xl">10</text>
<text x="532.05" y="454.80" class="xl">15</text>
<text x="554.78" y="454.80" class="xl">20</text>
<text x="577.50" y="454.80" class="xl">25</text>
<text x="600.23" y="454.80" class="xl">30</text>
<polyline points="463.87,440.66 468.42,440.26 472.96,439.59 477.51,438.92 482.05,438.25 486.60,437.58 491.14,436.24 495.69,435.84 500.23,437.58 504.78,438.92 509.32,439.59 513.87,440.26 518.41,440.93 522.96,441.60 527.50,441.60 532.05,441.60 536.60,441.60 541.14,441.60 545.69,441.60 550.23,441.60 554.78,441.60 559.32,441.60 563.87,441.60 568.41,441.60 572.96,441.60 577.50,441.60 582.05,441.60 586.59,441.60 591.14,441.60 595.68,441.60 600.23,441.60" fill="none" stroke="#5673b2" stroke-width="1.55" stroke-linejoin="round"/>
<polyline points="463.87,440.93 468.42,440.53 472.96,440.26 477.51,439.86 482.05,439.46 486.60,438.92 491.14,438.65 495.69,438.92 500.23,439.46 504.78,440.26 509.32,440.80 513.87,441.20 518.41,441.60 522.96,441.60 527.50,441.60 532.05,441.60 536.60,441.60 541.14,441.60 545.69,441.60 550.23,441.60 554.78,441.60 559.32,441.60 563.87,441.60 568.41,441.60 572.96,441.60 577.50,441.60 582.05,441.60 586.59,441.60 591.14,441.60 595.68,441.60 600.23,441.60" fill="none" stroke="#5fb6d4" stroke-width="1.55" stroke-linejoin="round"/>
<polyline points="463.87,441.20 468.42,440.93 472.96,440.53 477.51,440.26 482.05,439.59 486.60,439.59 491.14,439.99 495.69,440.53 500.23,440.93 504.78,441.20 509.32,441.60 513.87,441.60 518.41,441.60 522.96,441.60 527.50,441.60 532.05,441.60 536.60,441.60 541.14,441.60 545.69,441.60 550.23,441.60 554.78,441.60 559.32,441.60 563.87,441.60 568.41,441.60 572.96,441.60 577.50,441.60 582.05,441.60 586.59,441.60 591.14,441.60 595.68,441.60 600.23,441.60" fill="none" stroke="#313079" stroke-width="1.55" stroke-linejoin="round"/>
<polyline points="463.87,441.20 468.42,441.06 472.96,441.06 477.51,441.06 482.05,441.06 486.60,441.06 491.14,441.20 495.69,441.20 500.23,441.33 504.78,441.60 509.32,441.60 513.87,441.60 518.41,441.60 522.96,441.60 527.50,441.60 532.05,441.60 536.60,441.60 541.14,441.60 545.69,441.60 550.23,441.60 554.78,441.60 559.32,441.60 563.87,441.60 568.41,441.60 572.96,441.60 577.50,441.60 582.05,441.60 586.59,441.60 591.14,441.60 595.68,441.60 600.23,441.60" fill="none" stroke="#efab5c" stroke-width="1.55" stroke-linejoin="round"/>
<polyline points="463.87,439.72 468.42,437.58 472.96,422.84 477.51,410.78 482.05,353.16 486.60,383.98 491.14,346.46 495.69,379.96 500.23,394.70 504.78,398.72 509.32,414.80 513.87,428.20 518.41,431.68 522.96,436.24 527.50,438.92 532.05,440.66 536.60,441.06 541.14,441.06 545.69,441.20 550.23,441.06 554.78,440.80 559.32,440.80 563.87,441.20 568.41,441.60 572.96,441.60 577.50,441.60 582.05,441.60 586.59,441.60 591.14,441.60 595.68,441.60 600.23,441.60" fill="none" stroke="#cc6258" stroke-width="1.55" stroke-linejoin="round"/>
<line x1="461.60" y1="441.60" x2="602.50" y2="441.60" stroke="#d8c8c8" stroke-width="1.0" opacity="0.5"/>
<text x="534.38" y="326.60" class="tt" textLength="93.15" lengthAdjust="spacingAndGlyphs">LepSat11-93</text>
<text x="438.60" y="323.10" class="lt">k</text>
<line x1="650.00" y1="441.60" x2="793.50" y2="441.60" stroke="#bababa" stroke-width="1.1"/>
<text x="648.00" y="445.80" class="yl">0.0000</text>
<line x1="650.00" y1="428.20" x2="793.50" y2="428.20" stroke="#bababa" stroke-width="1.1"/>
<text x="648.00" y="432.40" class="yl">0.0002</text>
<line x1="650.00" y1="414.80" x2="793.50" y2="414.80" stroke="#bababa" stroke-width="1.1"/>
<text x="648.00" y="419.00" class="yl">0.0004</text>
<line x1="650.00" y1="401.40" x2="793.50" y2="401.40" stroke="#bababa" stroke-width="1.1"/>
<text x="648.00" y="405.60" class="yl">0.0006</text>
<line x1="650.00" y1="388.00" x2="793.50" y2="388.00" stroke="#bababa" stroke-width="1.1"/>
<text x="648.00" y="392.20" class="yl">0.0008</text>
<line x1="650.00" y1="374.60" x2="793.50" y2="374.60" stroke="#bababa" stroke-width="1.1"/>
<text x="648.00" y="378.80" class="yl">0.0010</text>
<line x1="650.00" y1="361.20" x2="793.50" y2="361.20" stroke="#bababa" stroke-width="1.1"/>
<text x="648.00" y="365.40" class="yl">0.0012</text>
<line x1="650.00" y1="347.80" x2="793.50" y2="347.80" stroke="#bababa" stroke-width="1.1"/>
<text x="648.00" y="352.00" class="yl">0.0014</text>
<line x1="650.00" y1="334.40" x2="793.50" y2="334.40" stroke="#bababa" stroke-width="1.1"/>
<text x="648.00" y="338.60" class="yl">0.0016</text>
<line x1="652.50" y1="334.40" x2="652.50" y2="444.10" stroke="#b8b8b8" stroke-width="1"/>
<line x1="652.50" y1="441.60" x2="652.50" y2="444.40" stroke="#c0c0c0" stroke-width="0.9"/>
<line x1="657.05" y1="441.60" x2="657.05" y2="444.40" stroke="#c0c0c0" stroke-width="0.9"/>
<line x1="661.60" y1="441.60" x2="661.60" y2="444.40" stroke="#c0c0c0" stroke-width="0.9"/>
<line x1="666.15" y1="441.60" x2="666.15" y2="444.40" stroke="#c0c0c0" stroke-width="0.9"/>
<line x1="670.69" y1="441.60" x2="670.69" y2="444.40" stroke="#c0c0c0" stroke-width="0.9"/>
<line x1="675.24" y1="441.60" x2="675.24" y2="444.40" stroke="#c0c0c0" stroke-width="0.9"/>
<line x1="679.79" y1="441.60" x2="679.79" y2="444.40" stroke="#c0c0c0" stroke-width="0.9"/>
<line x1="684.34" y1="441.60" x2="684.34" y2="444.40" stroke="#c0c0c0" stroke-width="0.9"/>
<line x1="688.89" y1="441.60" x2="688.89" y2="444.40" stroke="#c0c0c0" stroke-width="0.9"/>
<line x1="693.44" y1="441.60" x2="693.44" y2="444.40" stroke="#c0c0c0" stroke-width="0.9"/>
<line x1="697.98" y1="441.60" x2="697.98" y2="444.40" stroke="#c0c0c0" stroke-width="0.9"/>
<line x1="702.53" y1="441.60" x2="702.53" y2="444.40" stroke="#c0c0c0" stroke-width="0.9"/>
<line x1="707.08" y1="441.60" x2="707.08" y2="444.40" stroke="#c0c0c0" stroke-width="0.9"/>
<line x1="711.63" y1="441.60" x2="711.63" y2="444.40" stroke="#c0c0c0" stroke-width="0.9"/>
<line x1="716.18" y1="441.60" x2="716.18" y2="444.40" stroke="#c0c0c0" stroke-width="0.9"/>
<line x1="720.73" y1="441.60" x2="720.73" y2="444.40" stroke="#c0c0c0" stroke-width="0.9"/>
<line x1="725.27" y1="441.60" x2="725.27" y2="444.40" stroke="#c0c0c0" stroke-width="0.9"/>
<line x1="729.82" y1="441.60" x2="729.82" y2="444.40" stroke="#c0c0c0" stroke-width="0.9"/>
<line x1="734.37" y1="441.60" x2="734.37" y2="444.40" stroke="#c0c0c0" stroke-width="0.9"/>
<line x1="738.92" y1="441.60" x2="738.92" y2="444.40" stroke="#c0c0c0" stroke-width="0.9"/>
<line x1="743.47" y1="441.60" x2="743.47" y2="444.40" stroke="#c0c0c0" stroke-width="0.9"/>
<line x1="748.02" y1="441.60" x2="748.02" y2="444.40" stroke="#c0c0c0" stroke-width="0.9"/>
<line x1="752.56" y1="441.60" x2="752.56" y2="444.40" stroke="#c0c0c0" stroke-width="0.9"/>
<line x1="757.11" y1="441.60" x2="757.11" y2="444.40" stroke="#c0c0c0" stroke-width="0.9"/>
<line x1="761.66" y1="441.60" x2="761.66" y2="444.40" stroke="#c0c0c0" stroke-width="0.9"/>
<line x1="766.21" y1="441.60" x2="766.21" y2="444.40" stroke="#c0c0c0" stroke-width="0.9"/>
<line x1="770.76" y1="441.60" x2="770.76" y2="444.40" stroke="#c0c0c0" stroke-width="0.9"/>
<line x1="775.31" y1="441.60" x2="775.31" y2="444.40" stroke="#c0c0c0" stroke-width="0.9"/>
<line x1="779.85" y1="441.60" x2="779.85" y2="444.40" stroke="#c0c0c0" stroke-width="0.9"/>
<line x1="784.40" y1="441.60" x2="784.40" y2="444.40" stroke="#c0c0c0" stroke-width="0.9"/>
<line x1="788.95" y1="441.60" x2="788.95" y2="444.40" stroke="#c0c0c0" stroke-width="0.9"/>
<line x1="793.50" y1="441.60" x2="793.50" y2="444.40" stroke="#c0c0c0" stroke-width="0.9"/>
<text x="654.77" y="454.80" class="xl">0</text>
<text x="677.52" y="454.80" class="xl">5</text>
<text x="700.26" y="454.80" class="xl">10</text>
<text x="723.00" y="454.80" class="xl">15</text>
<text x="745.74" y="454.80" class="xl">20</text>
<text x="768.48" y="454.80" class="xl">25</text>
<text x="791.23" y="454.80" class="xl">30</text>
<polyline points="654.77,369.91 659.32,360.53 663.87,377.28 668.42,390.68 672.97,394.03 677.52,414.80 682.06,428.20 686.61,433.56 691.16,434.90 695.71,435.57 700.26,433.56 704.81,431.55 709.35,428.87 713.90,428.20 718.45,426.19 723.00,424.18 727.55,423.51 732.10,422.17 736.65,421.50 741.19,422.17 745.74,422.17 750.29,422.17 754.84,426.86 759.39,429.54 763.94,430.88 768.48,434.90 773.03,437.58 777.58,438.25 782.13,439.59 786.68,440.26 791.23,440.93" fill="none" stroke="#5673b2" stroke-width="1.6" stroke-linejoin="round"/>
<polyline points="654.77,412.12 659.32,365.89 663.87,375.27 668.42,368.57 672.97,392.02 677.52,409.44 682.06,426.19 686.61,437.58 691.16,436.24 695.71,434.90 700.26,433.56 704.81,432.89 709.35,428.20 713.90,428.87 718.45,424.85 723.00,423.51 727.55,423.51 732.10,430.88 736.65,432.89 741.19,433.56 745.74,430.88 750.29,428.20 754.84,424.85 759.39,430.88 763.94,429.54 768.48,434.90 773.03,437.58 777.58,438.92 782.13,440.26 786.68,440.93 791.23,440.93" fill="none" stroke="#5fb6d4" stroke-width="1.6" stroke-linejoin="round"/>
<polyline points="654.77,382.64 659.32,371.92 663.87,381.30 668.42,396.04 672.97,400.06 677.52,405.42 682.06,426.19 686.61,429.54 691.16,434.90 695.71,436.24 700.26,438.92 704.81,437.58 709.35,436.24 713.90,433.56 718.45,434.90 723.00,431.55 727.55,430.88 732.10,428.87 736.65,424.85 741.19,426.19 745.74,428.87 750.29,426.86 754.84,426.86 759.39,428.20 763.94,429.54 768.48,432.89 773.03,436.24 777.58,436.91 782.13,440.26 786.68,440.93 791.23,441.60" fill="none" stroke="#313079" stroke-width="1.6" stroke-linejoin="round"/>
<polyline points="654.77,440.93 659.32,440.93 663.87,438.92 668.42,437.58 672.97,423.51 677.52,429.54 682.06,422.17 686.61,414.13 691.16,426.86 695.71,424.18 700.26,433.56 704.81,431.55 709.35,432.22 713.90,438.92 718.45,435.57 723.00,429.54 727.55,428.87 732.10,431.55 736.65,429.54 741.19,428.20 745.74,426.19 750.29,422.17 754.84,412.79 759.39,410.78 763.94,422.17 768.48,424.18 773.03,428.20 777.58,428.87 782.13,435.57 786.68,438.92 791.23,438.92" fill="none" stroke="#efab5c" stroke-width="1.6" stroke-linejoin="round"/>
<polyline points="654.77,438.92 659.32,428.20 663.87,392.02 668.42,386.66 672.97,349.81 677.52,405.42 682.06,369.91 686.61,376.61 691.16,417.48 695.71,422.17 700.26,431.55 704.81,418.82 709.35,432.89 713.90,428.20 718.45,428.20 723.00,423.51 727.55,415.47 732.10,420.16 736.65,424.18 741.19,418.82 745.74,407.43 750.29,412.79 754.84,411.45 759.39,414.13 763.94,428.20 768.48,428.87 773.03,434.90 777.58,434.90 782.13,436.24 786.68,438.92 791.23,438.92" fill="none" stroke="#cc6258" stroke-width="1.6" stroke-linejoin="round"/>
<line x1="652.50" y1="441.60" x2="793.50" y2="441.60" stroke="#d8c8c8" stroke-width="1.0" opacity="0.5"/>
<text x="722.25" y="326.60" class="tt" textLength="102.40" lengthAdjust="spacingAndGlyphs">LepSat12-560</text>
<text x="634.60" y="322.70" class="lt">l</text>
<line x1="80.00" y1="593.30" x2="222.25" y2="593.30" stroke="#bababa" stroke-width="1.1"/>
<text x="78.00" y="597.50" class="yl">0.0000</text>
<line x1="80.00" y1="571.92" x2="222.25" y2="571.92" stroke="#bababa" stroke-width="1.1"/>
<text x="78.00" y="576.12" class="yl">0.0005</text>
<line x1="80.00" y1="550.54" x2="222.25" y2="550.54" stroke="#bababa" stroke-width="1.1"/>
<text x="78.00" y="554.74" class="yl">0.0010</text>
<line x1="80.00" y1="529.16" x2="222.25" y2="529.16" stroke="#bababa" stroke-width="1.1"/>
<text x="78.00" y="533.36" class="yl">0.0015</text>
<line x1="80.00" y1="507.78" x2="222.25" y2="507.78" stroke="#bababa" stroke-width="1.1"/>
<text x="78.00" y="511.98" class="yl">0.0020</text>
<line x1="80.00" y1="486.40" x2="222.25" y2="486.40" stroke="#bababa" stroke-width="1.1"/>
<text x="78.00" y="490.60" class="yl">0.0025</text>
<line x1="82.50" y1="486.40" x2="82.50" y2="595.80" stroke="#b8b8b8" stroke-width="1"/>
<line x1="82.50" y1="593.30" x2="82.50" y2="596.10" stroke="#c0c0c0" stroke-width="0.9"/>
<line x1="87.01" y1="593.30" x2="87.01" y2="596.10" stroke="#c0c0c0" stroke-width="0.9"/>
<line x1="91.52" y1="593.30" x2="91.52" y2="596.10" stroke="#c0c0c0" stroke-width="0.9"/>
<line x1="96.02" y1="593.30" x2="96.02" y2="596.10" stroke="#c0c0c0" stroke-width="0.9"/>
<line x1="100.53" y1="593.30" x2="100.53" y2="596.10" stroke="#c0c0c0" stroke-width="0.9"/>
<line x1="105.04" y1="593.30" x2="105.04" y2="596.10" stroke="#c0c0c0" stroke-width="0.9"/>
<line x1="109.55" y1="593.30" x2="109.55" y2="596.10" stroke="#c0c0c0" stroke-width="0.9"/>
<line x1="114.06" y1="593.30" x2="114.06" y2="596.10" stroke="#c0c0c0" stroke-width="0.9"/>
<line x1="118.56" y1="593.30" x2="118.56" y2="596.10" stroke="#c0c0c0" stroke-width="0.9"/>
<line x1="123.07" y1="593.30" x2="123.07" y2="596.10" stroke="#c0c0c0" stroke-width="0.9"/>
<line x1="127.58" y1="593.30" x2="127.58" y2="596.10" stroke="#c0c0c0" stroke-width="0.9"/>
<line x1="132.09" y1="593.30" x2="132.09" y2="596.10" stroke="#c0c0c0" stroke-width="0.9"/>
<line x1="136.60" y1="593.30" x2="136.60" y2="596.10" stroke="#c0c0c0" stroke-width="0.9"/>
<line x1="141.10" y1="593.30" x2="141.10" y2="596.10" stroke="#c0c0c0" stroke-width="0.9"/>
<line x1="145.61" y1="593.30" x2="145.61" y2="596.10" stroke="#c0c0c0" stroke-width="0.9"/>
<line x1="150.12" y1="593.30" x2="150.12" y2="596.10" stroke="#c0c0c0" stroke-width="0.9"/>
<line x1="154.63" y1="593.30" x2="154.63" y2="596.10" stroke="#c0c0c0" stroke-width="0.9"/>
<line x1="159.14" y1="593.30" x2="159.14" y2="596.10" stroke="#c0c0c0" stroke-width="0.9"/>
<line x1="163.65" y1="593.30" x2="163.65" y2="596.10" stroke="#c0c0c0" stroke-width="0.9"/>
<line x1="168.15" y1="593.30" x2="168.15" y2="596.10" stroke="#c0c0c0" stroke-width="0.9"/>
<line x1="172.66" y1="593.30" x2="172.66" y2="596.10" stroke="#c0c0c0" stroke-width="0.9"/>
<line x1="177.17" y1="593.30" x2="177.17" y2="596.10" stroke="#c0c0c0" stroke-width="0.9"/>
<line x1="181.68" y1="593.30" x2="181.68" y2="596.10" stroke="#c0c0c0" stroke-width="0.9"/>
<line x1="186.19" y1="593.30" x2="186.19" y2="596.10" stroke="#c0c0c0" stroke-width="0.9"/>
<line x1="190.69" y1="593.30" x2="190.69" y2="596.10" stroke="#c0c0c0" stroke-width="0.9"/>
<line x1="195.20" y1="593.30" x2="195.20" y2="596.10" stroke="#c0c0c0" stroke-width="0.9"/>
<line x1="199.71" y1="593.30" x2="199.71" y2="596.10" stroke="#c0c0c0" stroke-width="0.9"/>
<line x1="204.22" y1="593.30" x2="204.22" y2="596.10" stroke="#c0c0c0" stroke-width="0.9"/>
<line x1="208.73" y1="593.30" x2="208.73" y2="596.10" stroke="#c0c0c0" stroke-width="0.9"/>
<line x1="213.23" y1="593.30" x2="213.23" y2="596.10" stroke="#c0c0c0" stroke-width="0.9"/>
<line x1="217.74" y1="593.30" x2="217.74" y2="596.10" stroke="#c0c0c0" stroke-width="0.9"/>
<line x1="222.25" y1="593.30" x2="222.25" y2="596.10" stroke="#c0c0c0" stroke-width="0.9"/>
<text x="84.75" y="606.50" class="xl">0</text>
<text x="107.29" y="606.50" class="xl">5</text>
<text x="129.83" y="606.50" class="xl">10</text>
<text x="152.38" y="606.50" class="xl">15</text>
<text x="174.92" y="606.50" class="xl">20</text>
<text x="197.46" y="606.50" class="xl">25</text>
<text x="220.00" y="606.50" class="xl">30</text>
<polyline points="84.75,498.37 89.26,559.09 93.77,559.95 98.28,577.91 102.79,584.32 107.29,588.60 111.80,589.45 116.31,589.88 120.82,590.31 125.33,589.88 129.83,589.88 134.34,589.88 138.85,589.88 143.36,590.31 147.87,590.73 152.38,591.59 156.88,592.44 161.39,592.87 165.90,593.30 170.41,593.30 174.92,593.30 179.42,593.30 183.93,593.30 188.44,593.30 192.95,593.30 197.46,593.30 201.96,593.30 206.47,593.30 210.98,593.30 215.49,593.30 220.00,593.30" fill="none" stroke="#5673b2" stroke-width="1.7" stroke-linejoin="round"/>
<polyline points="84.75,569.35 89.26,580.47 93.77,576.62 98.28,583.47 102.79,584.75 107.29,589.88 111.80,587.31 116.31,589.02 120.82,589.88 125.33,590.73 129.83,590.73 134.34,591.16 138.85,591.16 143.36,591.16 147.87,591.59 152.38,592.02 156.88,592.44 161.39,593.30 165.90,593.30 170.41,593.30 174.92,593.30 179.42,593.30 183.93,593.30 188.44,593.30 192.95,593.30 197.46,593.30 201.96,593.30 206.47,593.30 210.98,593.30 215.49,593.30 220.00,593.30" fill="none" stroke="#5fb6d4" stroke-width="1.7" stroke-linejoin="round"/>
<polyline points="84.75,574.06 89.26,581.33 93.77,576.20 98.28,580.47 102.79,578.76 107.29,581.33 111.80,585.18 116.31,589.02 120.82,589.88 125.33,589.88 129.83,590.31 134.34,590.31 138.85,590.73 143.36,590.73 147.87,591.59 152.38,589.88 156.88,591.59 161.39,592.02 165.90,592.02 170.41,592.02 174.92,592.02 179.42,592.44 183.93,593.30 188.44,593.30 192.95,593.30 197.46,593.30 201.96,593.30 206.47,593.30 210.98,593.30 215.49,593.30 220.00,593.30" fill="none" stroke="#313079" stroke-width="1.7" stroke-linejoin="round"/>
<polyline points="84.75,574.91 89.26,583.47 93.77,574.06 98.28,568.50 102.79,559.09 107.29,575.77 111.80,578.76 116.31,576.62 120.82,571.92 125.33,588.60 129.83,586.03 134.34,582.61 138.85,585.18 143.36,576.62 147.87,588.60 152.38,591.59 156.88,592.87 161.39,593.30 165.90,593.30 170.41,593.30 174.92,593.30 179.42,593.30 183.93,593.30 188.44,593.30 192.95,593.30 197.46,593.30 201.96,593.30 206.47,593.30 210.98,593.30 215.49,593.30 220.00,593.30" fill="none" stroke="#efab5c" stroke-width="1.7" stroke-linejoin="round"/>
<polyline points="84.75,575.77 89.26,582.61 93.77,560.80 98.28,555.24 102.79,543.70 107.29,571.92 111.80,546.69 116.31,551.82 120.82,563.80 125.33,561.66 129.83,584.32 134.34,584.32 138.85,583.47 143.36,570.21 147.87,583.47 152.38,585.18 156.88,589.02 161.39,591.16 165.90,591.59 170.41,591.59 174.92,592.02 179.42,592.44 183.93,592.87 188.44,593.30 192.95,593.30 197.46,593.30 201.96,593.30 206.47,593.30 210.98,593.30 215.49,593.30 220.00,593.30" fill="none" stroke="#cc6258" stroke-width="1.7" stroke-linejoin="round"/>
<line x1="82.50" y1="593.30" x2="222.25" y2="593.30" stroke="#d8c8c8" stroke-width="1.0" opacity="0.5"/>
<text x="152.25" y="478.85" class="tt" textLength="102.40" lengthAdjust="spacingAndGlyphs">LepSat13-203</text>
<text x="53.35" y="476.30" class="lt">m</text>
<line x1="267.10" y1="593.30" x2="411.25" y2="593.30" stroke="#bababa" stroke-width="1.1"/>
<text x="265.10" y="597.50" class="yl">0.0000</text>
<line x1="267.10" y1="575.48" x2="411.25" y2="575.48" stroke="#bababa" stroke-width="1.1"/>
<text x="265.10" y="579.68" class="yl">0.0005</text>
<line x1="267.10" y1="557.67" x2="411.25" y2="557.67" stroke="#bababa" stroke-width="1.1"/>
<text x="265.10" y="561.87" class="yl">0.0010</text>
<line x1="267.10" y1="539.85" x2="411.25" y2="539.85" stroke="#bababa" stroke-width="1.1"/>
<text x="265.10" y="544.05" class="yl">0.0015</text>
<line x1="267.10" y1="522.03" x2="411.25" y2="522.03" stroke="#bababa" stroke-width="1.1"/>
<text x="265.10" y="526.23" class="yl">0.0020</text>
<line x1="267.10" y1="504.22" x2="411.25" y2="504.22" stroke="#bababa" stroke-width="1.1"/>
<text x="265.10" y="508.42" class="yl">0.0025</text>
<line x1="267.10" y1="486.40" x2="411.25" y2="486.40" stroke="#bababa" stroke-width="1.1"/>
<text x="265.10" y="490.60" class="yl">0.0030</text>
<line x1="269.60" y1="486.40" x2="269.60" y2="595.80" stroke="#b8b8b8" stroke-width="1"/>
<line x1="269.60" y1="593.30" x2="269.60" y2="596.10" stroke="#c0c0c0" stroke-width="0.9"/>
<line x1="274.17" y1="593.30" x2="274.17" y2="596.10" stroke="#c0c0c0" stroke-width="0.9"/>
<line x1="278.74" y1="593.30" x2="278.74" y2="596.10" stroke="#c0c0c0" stroke-width="0.9"/>
<line x1="283.31" y1="593.30" x2="283.31" y2="596.10" stroke="#c0c0c0" stroke-width="0.9"/>
<line x1="287.88" y1="593.30" x2="287.88" y2="596.10" stroke="#c0c0c0" stroke-width="0.9"/>
<line x1="292.45" y1="593.30" x2="292.45" y2="596.10" stroke="#c0c0c0" stroke-width="0.9"/>
<line x1="297.02" y1="593.30" x2="297.02" y2="596.10" stroke="#c0c0c0" stroke-width="0.9"/>
<line x1="301.59" y1="593.30" x2="301.59" y2="596.10" stroke="#c0c0c0" stroke-width="0.9"/>
<line x1="306.15" y1="593.30" x2="306.15" y2="596.10" stroke="#c0c0c0" stroke-width="0.9"/>
<line x1="310.72" y1="593.30" x2="310.72" y2="596.10" stroke="#c0c0c0" stroke-width="0.9"/>
<line x1="315.29" y1="593.30" x2="315.29" y2="596.10" stroke="#c0c0c0" stroke-width="0.9"/>
<line x1="319.86" y1="593.30" x2="319.86" y2="596.10" stroke="#c0c0c0" stroke-width="0.9"/>
<line x1="324.43" y1="593.30" x2="324.43" y2="596.10" stroke="#c0c0c0" stroke-width="0.9"/>
<line x1="329.00" y1="593.30" x2="329.00" y2="596.10" stroke="#c0c0c0" stroke-width="0.9"/>
<line x1="333.57" y1="593.30" x2="333.57" y2="596.10" stroke="#c0c0c0" stroke-width="0.9"/>
<line x1="338.14" y1="593.30" x2="338.14" y2="596.10" stroke="#c0c0c0" stroke-width="0.9"/>
<line x1="342.71" y1="593.30" x2="342.71" y2="596.10" stroke="#c0c0c0" stroke-width="0.9"/>
<line x1="347.28" y1="593.30" x2="347.28" y2="596.10" stroke="#c0c0c0" stroke-width="0.9"/>
<line x1="351.85" y1="593.30" x2="351.85" y2="596.10" stroke="#c0c0c0" stroke-width="0.9"/>
<line x1="356.42" y1="593.30" x2="356.42" y2="596.10" stroke="#c0c0c0" stroke-width="0.9"/>
<line x1="360.99" y1="593.30" x2="360.99" y2="596.10" stroke="#c0c0c0" stroke-width="0.9"/>
<line x1="365.56" y1="593.30" x2="365.56" y2="596.10" stroke="#c0c0c0" stroke-width="0.9"/>
<line x1="370.13" y1="593.30" x2="370.13" y2="596.10" stroke="#c0c0c0" stroke-width="0.9"/>
<line x1="374.70" y1="593.30" x2="374.70" y2="596.10" stroke="#c0c0c0" stroke-width="0.9"/>
<line x1="379.26" y1="593.30" x2="379.26" y2="596.10" stroke="#c0c0c0" stroke-width="0.9"/>
<line x1="383.83" y1="593.30" x2="383.83" y2="596.10" stroke="#c0c0c0" stroke-width="0.9"/>
<line x1="388.40" y1="593.30" x2="388.40" y2="596.10" stroke="#c0c0c0" stroke-width="0.9"/>
<line x1="392.97" y1="593.30" x2="392.97" y2="596.10" stroke="#c0c0c0" stroke-width="0.9"/>
<line x1="397.54" y1="593.30" x2="397.54" y2="596.10" stroke="#c0c0c0" stroke-width="0.9"/>
<line x1="402.11" y1="593.30" x2="402.11" y2="596.10" stroke="#c0c0c0" stroke-width="0.9"/>
<line x1="406.68" y1="593.30" x2="406.68" y2="596.10" stroke="#c0c0c0" stroke-width="0.9"/>
<line x1="411.25" y1="593.30" x2="411.25" y2="596.10" stroke="#c0c0c0" stroke-width="0.9"/>
<text x="271.88" y="606.50" class="xl">0</text>
<text x="294.73" y="606.50" class="xl">5</text>
<text x="317.58" y="606.50" class="xl">10</text>
<text x="340.43" y="606.50" class="xl">15</text>
<text x="363.27" y="606.50" class="xl">20</text>
<text x="386.12" y="606.50" class="xl">25</text>
<text x="408.97" y="606.50" class="xl">30</text>
<polyline points="271.88,584.75 276.45,576.55 281.02,572.63 285.59,571.21 290.16,579.40 294.73,585.82 299.30,589.74 303.87,591.52 308.44,592.23 313.01,592.23 317.58,592.23 322.15,592.23 326.72,592.23 331.29,592.23 335.86,592.23 340.43,592.23 344.99,592.23 349.56,592.23 354.13,592.23 358.70,592.59 363.27,592.94 367.84,593.30 372.41,593.30 376.98,593.30 381.55,593.30 386.12,593.30 390.69,593.30 395.26,593.30 399.83,593.30 404.40,593.30 408.97,593.30" fill="none" stroke="#5673b2" stroke-width="1.7" stroke-linejoin="round"/>
<polyline points="271.88,586.89 276.45,578.33 281.02,573.70 285.59,570.14 290.16,581.18 294.73,586.89 299.30,590.45 303.87,591.87 308.44,592.23 313.01,592.23 317.58,592.23 322.15,592.23 326.72,592.59 331.29,592.59 335.86,592.59 340.43,592.23 344.99,592.23 349.56,592.23 354.13,591.87 358.70,592.23 363.27,592.59 367.84,593.30 372.41,593.30 376.98,593.30 381.55,593.30 386.12,593.30 390.69,593.30 395.26,593.30 399.83,593.30 404.40,593.30 408.97,593.30" fill="none" stroke="#5fb6d4" stroke-width="1.7" stroke-linejoin="round"/>
<polyline points="271.88,581.18 276.45,580.12 281.02,579.76 285.59,578.33 290.16,581.18 294.73,584.39 299.30,589.74 303.87,591.52 308.44,592.23 313.01,592.59 317.58,592.59 322.15,592.59 326.72,592.59 331.29,592.59 335.86,592.59 340.43,592.59 344.99,592.59 349.56,592.59 354.13,592.23 358.70,592.59 363.27,592.59 367.84,592.94 372.41,593.30 376.98,593.30 381.55,593.30 386.12,593.30 390.69,593.30 395.26,593.30 399.83,593.30 404.40,593.30 408.97,593.30" fill="none" stroke="#313079" stroke-width="1.7" stroke-linejoin="round"/>
<polyline points="271.88,592.59 276.45,590.09 281.02,588.67 285.59,589.74 290.16,592.59 294.73,589.74 299.30,590.81 303.87,592.23 308.44,590.45 313.01,590.45 317.58,590.09 322.15,590.45 326.72,590.81 331.29,588.31 335.86,591.52 340.43,590.09 344.99,592.23 349.56,589.74 354.13,591.52 358.70,590.45 363.27,591.52 367.84,592.23 372.41,592.59 376.98,592.59 381.55,592.23 386.12,592.23 390.69,592.59 395.26,593.30 399.83,593.30 404.40,593.30 408.97,593.30" fill="none" stroke="#efab5c" stroke-width="1.7" stroke-linejoin="round"/>
<polyline points="271.88,507.78 276.45,516.69 281.02,509.92 285.59,557.67 290.16,566.22 294.73,575.48 299.30,576.20 303.87,571.92 308.44,579.40 313.01,579.05 317.58,580.83 322.15,582.25 326.72,584.75 331.29,583.68 335.86,585.82 340.43,583.68 344.99,582.97 349.56,584.04 354.13,582.25 358.70,584.75 363.27,588.67 367.84,589.74 372.41,590.45 376.98,592.23 381.55,592.94 386.12,593.30 390.69,593.30 395.26,593.30 399.83,593.30 404.40,593.30 408.97,593.30" fill="none" stroke="#cc6258" stroke-width="1.7" stroke-linejoin="round"/>
<line x1="269.60" y1="593.30" x2="411.25" y2="593.30" stroke="#d8c8c8" stroke-width="1.0" opacity="0.5"/>
<text x="338.38" y="478.85" class="tt" textLength="102.65" lengthAdjust="spacingAndGlyphs">LepSat14-358</text>
<text x="248.35" y="476.80" class="lt">n</text>
<line x1="459.75" y1="593.30" x2="601.00" y2="593.30" stroke="#bababa" stroke-width="1.1"/>
<text x="457.75" y="597.50" class="yl">0.0000</text>
<line x1="459.75" y1="579.94" x2="601.00" y2="579.94" stroke="#bababa" stroke-width="1.1"/>
<text x="457.75" y="584.14" class="yl">0.0002</text>
<line x1="459.75" y1="566.57" x2="601.00" y2="566.57" stroke="#bababa" stroke-width="1.1"/>
<text x="457.75" y="570.77" class="yl">0.0004</text>
<line x1="459.75" y1="553.21" x2="601.00" y2="553.21" stroke="#bababa" stroke-width="1.1"/>
<text x="457.75" y="557.41" class="yl">0.0006</text>
<line x1="459.75" y1="539.85" x2="601.00" y2="539.85" stroke="#bababa" stroke-width="1.1"/>
<text x="457.75" y="544.05" class="yl">0.0008</text>
<line x1="459.75" y1="526.49" x2="601.00" y2="526.49" stroke="#bababa" stroke-width="1.1"/>
<text x="457.75" y="530.69" class="yl">0.0010</text>
<line x1="459.75" y1="513.12" x2="601.00" y2="513.12" stroke="#bababa" stroke-width="1.1"/>
<text x="457.75" y="517.33" class="yl">0.0012</text>
<line x1="459.75" y1="499.76" x2="601.00" y2="499.76" stroke="#bababa" stroke-width="1.1"/>
<text x="457.75" y="503.96" class="yl">0.0014</text>
<line x1="459.75" y1="486.40" x2="601.00" y2="486.40" stroke="#bababa" stroke-width="1.1"/>
<text x="457.75" y="490.60" class="yl">0.0016</text>
<line x1="462.25" y1="486.40" x2="462.25" y2="595.80" stroke="#b8b8b8" stroke-width="1"/>
<line x1="462.25" y1="593.30" x2="462.25" y2="596.10" stroke="#c0c0c0" stroke-width="0.9"/>
<line x1="466.73" y1="593.30" x2="466.73" y2="596.10" stroke="#c0c0c0" stroke-width="0.9"/>
<line x1="471.20" y1="593.30" x2="471.20" y2="596.10" stroke="#c0c0c0" stroke-width="0.9"/>
<line x1="475.68" y1="593.30" x2="475.68" y2="596.10" stroke="#c0c0c0" stroke-width="0.9"/>
<line x1="480.15" y1="593.30" x2="480.15" y2="596.10" stroke="#c0c0c0" stroke-width="0.9"/>
<line x1="484.63" y1="593.30" x2="484.63" y2="596.10" stroke="#c0c0c0" stroke-width="0.9"/>
<line x1="489.10" y1="593.30" x2="489.10" y2="596.10" stroke="#c0c0c0" stroke-width="0.9"/>
<line x1="493.58" y1="593.30" x2="493.58" y2="596.10" stroke="#c0c0c0" stroke-width="0.9"/>
<line x1="498.06" y1="593.30" x2="498.06" y2="596.10" stroke="#c0c0c0" stroke-width="0.9"/>
<line x1="502.53" y1="593.30" x2="502.53" y2="596.10" stroke="#c0c0c0" stroke-width="0.9"/>
<line x1="507.01" y1="593.30" x2="507.01" y2="596.10" stroke="#c0c0c0" stroke-width="0.9"/>
<line x1="511.48" y1="593.30" x2="511.48" y2="596.10" stroke="#c0c0c0" stroke-width="0.9"/>
<line x1="515.96" y1="593.30" x2="515.96" y2="596.10" stroke="#c0c0c0" stroke-width="0.9"/>
<line x1="520.44" y1="593.30" x2="520.44" y2="596.10" stroke="#c0c0c0" stroke-width="0.9"/>
<line x1="524.91" y1="593.30" x2="524.91" y2="596.10" stroke="#c0c0c0" stroke-width="0.9"/>
<line x1="529.39" y1="593.30" x2="529.39" y2="596.10" stroke="#c0c0c0" stroke-width="0.9"/>
<line x1="533.86" y1="593.30" x2="533.86" y2="596.10" stroke="#c0c0c0" stroke-width="0.9"/>
<line x1="538.34" y1="593.30" x2="538.34" y2="596.10" stroke="#c0c0c0" stroke-width="0.9"/>
<line x1="542.81" y1="593.30" x2="542.81" y2="596.10" stroke="#c0c0c0" stroke-width="0.9"/>
<line x1="547.29" y1="593.30" x2="547.29" y2="596.10" stroke="#c0c0c0" stroke-width="0.9"/>
<line x1="551.77" y1="593.30" x2="551.77" y2="596.10" stroke="#c0c0c0" stroke-width="0.9"/>
<line x1="556.24" y1="593.30" x2="556.24" y2="596.10" stroke="#c0c0c0" stroke-width="0.9"/>
<line x1="560.72" y1="593.30" x2="560.72" y2="596.10" stroke="#c0c0c0" stroke-width="0.9"/>
<line x1="565.19" y1="593.30" x2="565.19" y2="596.10" stroke="#c0c0c0" stroke-width="0.9"/>
<line x1="569.67" y1="593.30" x2="569.67" y2="596.10" stroke="#c0c0c0" stroke-width="0.9"/>
<line x1="574.15" y1="593.30" x2="574.15" y2="596.10" stroke="#c0c0c0" stroke-width="0.9"/>
<line x1="578.62" y1="593.30" x2="578.62" y2="596.10" stroke="#c0c0c0" stroke-width="0.9"/>
<line x1="583.10" y1="593.30" x2="583.10" y2="596.10" stroke="#c0c0c0" stroke-width="0.9"/>
<line x1="587.57" y1="593.30" x2="587.57" y2="596.10" stroke="#c0c0c0" stroke-width="0.9"/>
<line x1="592.05" y1="593.30" x2="592.05" y2="596.10" stroke="#c0c0c0" stroke-width="0.9"/>
<line x1="596.52" y1="593.30" x2="596.52" y2="596.10" stroke="#c0c0c0" stroke-width="0.9"/>
<line x1="601.00" y1="593.30" x2="601.00" y2="596.10" stroke="#c0c0c0" stroke-width="0.9"/>
<text x="464.49" y="606.50" class="xl">0</text>
<text x="486.87" y="606.50" class="xl">5</text>
<text x="509.25" y="606.50" class="xl">10</text>
<text x="531.62" y="606.50" class="xl">15</text>
<text x="554.00" y="606.50" class="xl">20</text>
<text x="576.38" y="606.50" class="xl">25</text>
<text x="598.76" y="606.50" class="xl">30</text>
<polyline points="464.49,537.85 468.96,515.13 473.44,526.49 477.92,547.20 482.39,559.89 486.87,573.26 491.34,583.28 495.82,587.95 500.29,590.63 504.77,591.30 509.25,591.96 513.72,591.96 518.20,591.96 522.67,592.63 527.15,593.30 531.62,593.30 536.10,593.30 540.58,593.30 545.05,593.30 549.53,593.30 554.00,593.30 558.48,593.30 562.96,593.30 567.43,593.30 571.91,593.30 576.38,593.30 580.86,593.30 585.33,593.30 589.81,593.30 594.29,593.30 598.76,593.30" fill="none" stroke="#5673b2" stroke-width="1.7" stroke-linejoin="round"/>
<polyline points="464.49,533.84 468.96,500.43 473.44,509.78 477.92,543.19 482.39,555.22 486.87,569.25 491.34,582.61 495.82,586.62 500.29,589.96 504.77,589.29 509.25,591.30 513.72,591.96 518.20,591.96 522.67,591.96 527.15,591.96 531.62,592.63 536.10,593.30 540.58,593.30 545.05,593.30 549.53,593.30 554.00,593.30 558.48,593.30 562.96,593.30 567.43,593.30 571.91,593.30 576.38,593.30 580.86,593.30 585.33,593.30 589.81,593.30 594.29,593.30 598.76,593.30" fill="none" stroke="#5fb6d4" stroke-width="1.7" stroke-linejoin="round"/>
<polyline points="464.49,542.52 468.96,523.15 473.44,533.17 477.92,551.21 482.39,565.91 486.87,578.60 491.34,585.28 495.82,589.29 500.29,591.30 504.77,591.96 509.25,591.96 513.72,592.63 518.20,593.30 522.67,593.30 527.15,593.30 531.62,593.30 536.10,593.30 540.58,593.30 545.05,593.30 549.53,593.30 554.00,593.30 558.48,593.30 562.96,593.30 567.43,593.30 571.91,593.30 576.38,593.30 580.86,593.30 585.33,593.30 589.81,593.30 594.29,593.30 598.76,593.30" fill="none" stroke="#313079" stroke-width="1.7" stroke-linejoin="round"/>
<polyline points="464.49,578.60 468.96,587.95 473.44,580.61 477.92,586.62 482.39,589.96 486.87,591.96 491.34,591.30 495.82,589.29 500.29,591.96 504.77,589.96 509.25,591.30 513.72,589.96 518.20,589.29 522.67,589.96 527.15,589.29 531.62,592.63 536.10,589.96 540.58,587.95 545.05,591.96 549.53,592.63 554.00,593.30 558.48,593.30 562.96,593.30 567.43,593.30 571.91,593.30 576.38,593.30 580.86,593.30 585.33,593.30 589.81,593.30 594.29,593.30 598.76,593.30" fill="none" stroke="#efab5c" stroke-width="1.7" stroke-linejoin="round"/>
<polyline points="464.49,587.29 468.96,584.61 473.44,582.61 477.92,586.62 482.39,589.96 486.87,591.96 491.34,591.96 495.82,589.96 500.29,592.63 504.77,591.96 509.25,591.30 513.72,591.30 518.20,589.96 522.67,589.29 527.15,589.96 531.62,592.63 536.10,591.96 540.58,590.63 545.05,592.63 549.53,593.30 554.00,593.30 558.48,593.30 562.96,593.30 567.43,593.30 571.91,593.30 576.38,593.30 580.86,593.30 585.33,593.30 589.81,593.30 594.29,593.30 598.76,593.30" fill="none" stroke="#cc6258" stroke-width="1.7" stroke-linejoin="round"/>
<line x1="462.25" y1="593.30" x2="601.00" y2="593.30" stroke="#d8c8c8" stroke-width="1.0" opacity="0.5"/>
<text x="534.50" y="478.85" class="tt" textLength="101.90" lengthAdjust="spacingAndGlyphs">LepSat15-141</text>
<text x="439.35" y="476.80" class="lt">o</text>
<line x1="649.00" y1="593.30" x2="791.90" y2="593.30" stroke="#bababa" stroke-width="1.1"/>
<text x="647.00" y="597.50" class="yl">0.0000</text>
<line x1="649.00" y1="575.48" x2="791.90" y2="575.48" stroke="#bababa" stroke-width="1.1"/>
<text x="647.00" y="579.68" class="yl">0.0005</text>
<line x1="649.00" y1="557.67" x2="791.90" y2="557.67" stroke="#bababa" stroke-width="1.1"/>
<text x="647.00" y="561.87" class="yl">0.0010</text>
<line x1="649.00" y1="539.85" x2="791.90" y2="539.85" stroke="#bababa" stroke-width="1.1"/>
<text x="647.00" y="544.05" class="yl">0.0015</text>
<line x1="649.00" y1="522.03" x2="791.90" y2="522.03" stroke="#bababa" stroke-width="1.1"/>
<text x="647.00" y="526.23" class="yl">0.0020</text>
<line x1="649.00" y1="504.22" x2="791.90" y2="504.22" stroke="#bababa" stroke-width="1.1"/>
<text x="647.00" y="508.42" class="yl">0.0025</text>
<line x1="649.00" y1="486.40" x2="791.90" y2="486.40" stroke="#bababa" stroke-width="1.1"/>
<text x="647.00" y="490.60" class="yl">0.0030</text>
<line x1="651.50" y1="486.40" x2="651.50" y2="595.80" stroke="#b8b8b8" stroke-width="1"/>
<line x1="651.50" y1="593.30" x2="651.50" y2="596.10" stroke="#c0c0c0" stroke-width="0.9"/>
<line x1="656.03" y1="593.30" x2="656.03" y2="596.10" stroke="#c0c0c0" stroke-width="0.9"/>
<line x1="660.56" y1="593.30" x2="660.56" y2="596.10" stroke="#c0c0c0" stroke-width="0.9"/>
<line x1="665.09" y1="593.30" x2="665.09" y2="596.10" stroke="#c0c0c0" stroke-width="0.9"/>
<line x1="669.62" y1="593.30" x2="669.62" y2="596.10" stroke="#c0c0c0" stroke-width="0.9"/>
<line x1="674.15" y1="593.30" x2="674.15" y2="596.10" stroke="#c0c0c0" stroke-width="0.9"/>
<line x1="678.67" y1="593.30" x2="678.67" y2="596.10" stroke="#c0c0c0" stroke-width="0.9"/>
<line x1="683.20" y1="593.30" x2="683.20" y2="596.10" stroke="#c0c0c0" stroke-width="0.9"/>
<line x1="687.73" y1="593.30" x2="687.73" y2="596.10" stroke="#c0c0c0" stroke-width="0.9"/>
<line x1="692.26" y1="593.30" x2="692.26" y2="596.10" stroke="#c0c0c0" stroke-width="0.9"/>
<line x1="696.79" y1="593.30" x2="696.79" y2="596.10" stroke="#c0c0c0" stroke-width="0.9"/>
<line x1="701.32" y1="593.30" x2="701.32" y2="596.10" stroke="#c0c0c0" stroke-width="0.9"/>
<line x1="705.85" y1="593.30" x2="705.85" y2="596.10" stroke="#c0c0c0" stroke-width="0.9"/>
<line x1="710.38" y1="593.30" x2="710.38" y2="596.10" stroke="#c0c0c0" stroke-width="0.9"/>
<line x1="714.91" y1="593.30" x2="714.91" y2="596.10" stroke="#c0c0c0" stroke-width="0.9"/>
<line x1="719.44" y1="593.30" x2="719.44" y2="596.10" stroke="#c0c0c0" stroke-width="0.9"/>
<line x1="723.96" y1="593.30" x2="723.96" y2="596.10" stroke="#c0c0c0" stroke-width="0.9"/>
<line x1="728.49" y1="593.30" x2="728.49" y2="596.10" stroke="#c0c0c0" stroke-width="0.9"/>
<line x1="733.02" y1="593.30" x2="733.02" y2="596.10" stroke="#c0c0c0" stroke-width="0.9"/>
<line x1="737.55" y1="593.30" x2="737.55" y2="596.10" stroke="#c0c0c0" stroke-width="0.9"/>
<line x1="742.08" y1="593.30" x2="742.08" y2="596.10" stroke="#c0c0c0" stroke-width="0.9"/>
<line x1="746.61" y1="593.30" x2="746.61" y2="596.10" stroke="#c0c0c0" stroke-width="0.9"/>
<line x1="751.14" y1="593.30" x2="751.14" y2="596.10" stroke="#c0c0c0" stroke-width="0.9"/>
<line x1="755.67" y1="593.30" x2="755.67" y2="596.10" stroke="#c0c0c0" stroke-width="0.9"/>
<line x1="760.20" y1="593.30" x2="760.20" y2="596.10" stroke="#c0c0c0" stroke-width="0.9"/>
<line x1="764.73" y1="593.30" x2="764.73" y2="596.10" stroke="#c0c0c0" stroke-width="0.9"/>
<line x1="769.25" y1="593.30" x2="769.25" y2="596.10" stroke="#c0c0c0" stroke-width="0.9"/>
<line x1="773.78" y1="593.30" x2="773.78" y2="596.10" stroke="#c0c0c0" stroke-width="0.9"/>
<line x1="778.31" y1="593.30" x2="778.31" y2="596.10" stroke="#c0c0c0" stroke-width="0.9"/>
<line x1="782.84" y1="593.30" x2="782.84" y2="596.10" stroke="#c0c0c0" stroke-width="0.9"/>
<line x1="787.37" y1="593.30" x2="787.37" y2="596.10" stroke="#c0c0c0" stroke-width="0.9"/>
<line x1="791.90" y1="593.30" x2="791.90" y2="596.10" stroke="#c0c0c0" stroke-width="0.9"/>
<text x="653.76" y="606.50" class="xl">0</text>
<text x="676.41" y="606.50" class="xl">5</text>
<text x="699.05" y="606.50" class="xl">10</text>
<text x="721.70" y="606.50" class="xl">15</text>
<text x="744.35" y="606.50" class="xl">20</text>
<text x="766.99" y="606.50" class="xl">25</text>
<text x="789.64" y="606.50" class="xl">30</text>
<polyline points="653.76,592.94 658.29,592.23 662.82,591.16 667.35,589.74 671.88,588.31 676.41,588.31 680.94,590.45 685.47,591.87 690.00,592.94 694.53,593.30 699.05,593.30 703.58,593.30 708.11,593.30 712.64,593.30 717.17,593.30 721.70,593.30 726.23,593.30 730.76,593.30 735.29,593.30 739.82,593.30 744.35,593.30 748.87,593.30 753.40,593.30 757.93,593.30 762.46,593.30 766.99,593.30 771.52,593.30 776.05,593.30 780.58,593.30 785.11,593.30 789.64,593.30" fill="none" stroke="#5673b2" stroke-width="1.55" stroke-linejoin="round"/>
<polyline points="653.76,593.30 658.29,592.94 662.82,592.59 667.35,591.87 671.88,591.52 676.41,591.52 680.94,591.87 685.47,592.59 690.00,593.30 694.53,593.30 699.05,593.30 703.58,593.30 708.11,593.30 712.64,593.30 717.17,593.30 721.70,593.30 726.23,593.30 730.76,593.30 735.29,593.30 739.82,593.30 744.35,593.30 748.87,593.30 753.40,593.30 757.93,593.30 762.46,593.30 766.99,593.30 771.52,593.30 776.05,593.30 780.58,593.30 785.11,593.30 789.64,593.30" fill="none" stroke="#5fb6d4" stroke-width="1.55" stroke-linejoin="round"/>
<polyline points="653.76,589.02 658.29,577.98 662.82,556.60 667.35,531.30 671.88,511.34 676.41,504.22 680.94,519.90 685.47,550.90 690.00,569.43 694.53,581.54 699.05,589.02 703.58,591.16 708.11,591.87 712.64,592.94 717.17,593.30 721.70,593.30 726.23,593.30 730.76,593.30 735.29,593.30 739.82,593.30 744.35,593.30 748.87,593.30 753.40,593.30 757.93,593.30 762.46,593.30 766.99,593.30 771.52,593.30 776.05,593.30 780.58,593.30 785.11,593.30 789.64,593.30" fill="none" stroke="#313079" stroke-width="1.55" stroke-linejoin="round"/>
<polyline points="653.76,593.30 658.29,593.30 662.82,593.30 667.35,593.30 671.88,593.30 676.41,593.30 680.94,593.30 685.47,593.30 690.00,593.30 694.53,593.30 699.05,593.30 703.58,593.30 708.11,593.30 712.64,592.59 717.17,592.23 721.70,592.59 726.23,592.94 730.76,592.94 735.29,592.59 739.82,592.94 744.35,593.30 748.87,593.30 753.40,593.30 757.93,593.30 762.46,593.30 766.99,593.30 771.52,593.30 776.05,593.30 780.58,593.30 785.11,593.30 789.64,593.30" fill="none" stroke="#efab5c" stroke-width="1.55" stroke-linejoin="round"/>
<polyline points="653.76,593.30 658.29,593.30 662.82,593.30 667.35,593.30 671.88,593.30 676.41,593.30 680.94,593.30 685.47,593.30 690.00,593.30 694.53,593.30 699.05,593.30 703.58,593.30 708.11,593.30 712.64,593.30 717.17,593.30 721.70,593.30 726.23,592.94 730.76,592.59 735.29,592.23 739.82,592.59 744.35,592.94 748.87,593.30 753.40,593.30 757.93,593.30 762.46,593.30 766.99,593.30 771.52,593.30 776.05,593.30 780.58,593.30 785.11,593.30 789.64,593.30" fill="none" stroke="#cc6258" stroke-width="1.55" stroke-linejoin="round"/>
<line x1="651.50" y1="593.30" x2="791.90" y2="593.30" stroke="#d8c8c8" stroke-width="1.0" opacity="0.5"/>
<text x="716.88" y="478.85" class="tt" textLength="93.15" lengthAdjust="spacingAndGlyphs">LepSat16-26</text>
<text x="630.50" y="471.80" class="lt">p</text>
<line x1="81.90" y1="746.60" x2="225.25" y2="746.60" stroke="#bababa" stroke-width="1.1"/>
<text x="79.90" y="750.80" class="yl">0.0000</text>
<line x1="81.90" y1="731.29" x2="225.25" y2="731.29" stroke="#bababa" stroke-width="1.1"/>
<text x="79.90" y="735.49" class="yl">0.0005</text>
<line x1="81.90" y1="715.97" x2="225.25" y2="715.97" stroke="#bababa" stroke-width="1.1"/>
<text x="79.90" y="720.17" class="yl">0.0010</text>
<line x1="81.90" y1="700.66" x2="225.25" y2="700.66" stroke="#bababa" stroke-width="1.1"/>
<text x="79.90" y="704.86" class="yl">0.0015</text>
<line x1="81.90" y1="685.34" x2="225.25" y2="685.34" stroke="#bababa" stroke-width="1.1"/>
<text x="79.90" y="689.54" class="yl">0.0020</text>
<line x1="81.90" y1="670.03" x2="225.25" y2="670.03" stroke="#bababa" stroke-width="1.1"/>
<text x="79.90" y="674.23" class="yl">0.0025</text>
<line x1="81.90" y1="654.71" x2="225.25" y2="654.71" stroke="#bababa" stroke-width="1.1"/>
<text x="79.90" y="658.91" class="yl">0.0030</text>
<line x1="81.90" y1="639.40" x2="225.25" y2="639.40" stroke="#bababa" stroke-width="1.1"/>
<text x="79.90" y="643.60" class="yl">0.0035</text>
<line x1="84.40" y1="639.40" x2="84.40" y2="749.10" stroke="#b8b8b8" stroke-width="1"/>
<line x1="84.40" y1="746.60" x2="84.40" y2="749.40" stroke="#c0c0c0" stroke-width="0.9"/>
<line x1="88.94" y1="746.60" x2="88.94" y2="749.40" stroke="#c0c0c0" stroke-width="0.9"/>
<line x1="93.49" y1="746.60" x2="93.49" y2="749.40" stroke="#c0c0c0" stroke-width="0.9"/>
<line x1="98.03" y1="746.60" x2="98.03" y2="749.40" stroke="#c0c0c0" stroke-width="0.9"/>
<line x1="102.57" y1="746.60" x2="102.57" y2="749.40" stroke="#c0c0c0" stroke-width="0.9"/>
<line x1="107.12" y1="746.60" x2="107.12" y2="749.40" stroke="#c0c0c0" stroke-width="0.9"/>
<line x1="111.66" y1="746.60" x2="111.66" y2="749.40" stroke="#c0c0c0" stroke-width="0.9"/>
<line x1="116.20" y1="746.60" x2="116.20" y2="749.40" stroke="#c0c0c0" stroke-width="0.9"/>
<line x1="120.75" y1="746.60" x2="120.75" y2="749.40" stroke="#c0c0c0" stroke-width="0.9"/>
<line x1="125.29" y1="746.60" x2="125.29" y2="749.40" stroke="#c0c0c0" stroke-width="0.9"/>
<line x1="129.84" y1="746.60" x2="129.84" y2="749.40" stroke="#c0c0c0" stroke-width="0.9"/>
<line x1="134.38" y1="746.60" x2="134.38" y2="749.40" stroke="#c0c0c0" stroke-width="0.9"/>
<line x1="138.92" y1="746.60" x2="138.92" y2="749.40" stroke="#c0c0c0" stroke-width="0.9"/>
<line x1="143.47" y1="746.60" x2="143.47" y2="749.40" stroke="#c0c0c0" stroke-width="0.9"/>
<line x1="148.01" y1="746.60" x2="148.01" y2="749.40" stroke="#c0c0c0" stroke-width="0.9"/>
<line x1="152.55" y1="746.60" x2="152.55" y2="749.40" stroke="#c0c0c0" stroke-width="0.9"/>
<line x1="157.10" y1="746.60" x2="157.10" y2="749.40" stroke="#c0c0c0" stroke-width="0.9"/>
<line x1="161.64" y1="746.60" x2="161.64" y2="749.40" stroke="#c0c0c0" stroke-width="0.9"/>
<line x1="166.18" y1="746.60" x2="166.18" y2="749.40" stroke="#c0c0c0" stroke-width="0.9"/>
<line x1="170.73" y1="746.60" x2="170.73" y2="749.40" stroke="#c0c0c0" stroke-width="0.9"/>
<line x1="175.27" y1="746.60" x2="175.27" y2="749.40" stroke="#c0c0c0" stroke-width="0.9"/>
<line x1="179.81" y1="746.60" x2="179.81" y2="749.40" stroke="#c0c0c0" stroke-width="0.9"/>
<line x1="184.36" y1="746.60" x2="184.36" y2="749.40" stroke="#c0c0c0" stroke-width="0.9"/>
<line x1="188.90" y1="746.60" x2="188.90" y2="749.40" stroke="#c0c0c0" stroke-width="0.9"/>
<line x1="193.45" y1="746.60" x2="193.45" y2="749.40" stroke="#c0c0c0" stroke-width="0.9"/>
<line x1="197.99" y1="746.60" x2="197.99" y2="749.40" stroke="#c0c0c0" stroke-width="0.9"/>
<line x1="202.53" y1="746.60" x2="202.53" y2="749.40" stroke="#c0c0c0" stroke-width="0.9"/>
<line x1="207.08" y1="746.60" x2="207.08" y2="749.40" stroke="#c0c0c0" stroke-width="0.9"/>
<line x1="211.62" y1="746.60" x2="211.62" y2="749.40" stroke="#c0c0c0" stroke-width="0.9"/>
<line x1="216.16" y1="746.60" x2="216.16" y2="749.40" stroke="#c0c0c0" stroke-width="0.9"/>
<line x1="220.71" y1="746.60" x2="220.71" y2="749.40" stroke="#c0c0c0" stroke-width="0.9"/>
<line x1="225.25" y1="746.60" x2="225.25" y2="749.40" stroke="#c0c0c0" stroke-width="0.9"/>
<text x="86.67" y="759.80" class="xl">0</text>
<text x="109.39" y="759.80" class="xl">5</text>
<text x="132.11" y="759.80" class="xl">10</text>
<text x="154.82" y="759.80" class="xl">15</text>
<text x="177.54" y="759.80" class="xl">20</text>
<text x="200.26" y="759.80" class="xl">25</text>
<text x="222.98" y="759.80" class="xl">30</text>
<polyline points="86.67,746.60 91.22,746.60 95.76,746.60 100.30,746.60 104.85,746.60 109.39,746.60 113.93,746.60 118.48,746.60 123.02,746.60 127.56,746.60 132.11,746.60 136.65,746.60 141.19,746.60 145.74,746.60 150.28,746.60 154.82,746.60 159.37,746.60 163.91,746.60 168.46,746.60 173.00,746.60 177.54,746.60 182.09,746.60 186.63,746.60 191.17,746.60 195.72,746.60 200.26,746.60 204.80,746.60 209.35,746.60 213.89,746.60 218.43,746.60 222.98,746.60" fill="none" stroke="#5673b2" stroke-width="2.2" stroke-linejoin="round"/>
<polyline points="86.67,746.60 91.22,746.60 95.76,746.60 100.30,746.60 104.85,746.60 109.39,746.60 113.93,746.60 118.48,746.60 123.02,746.60 127.56,746.60 132.11,746.60 136.65,746.60 141.19,746.60 145.74,746.60 150.28,746.60 154.82,746.60 159.37,746.60 163.91,746.60 168.46,746.60 173.00,746.60 177.54,746.60 182.09,746.60 186.63,746.60 191.17,746.60 195.72,746.60 200.26,746.60 204.80,746.60 209.35,746.60 213.89,746.60 218.43,746.60 222.98,746.60" fill="none" stroke="#5fb6d4" stroke-width="2.2" stroke-linejoin="round"/>
<polyline points="86.67,746.60 91.22,746.60 95.76,746.60 100.30,746.60 104.85,746.60 109.39,746.60 113.93,746.60 118.48,746.60 123.02,746.60 127.56,746.60 132.11,746.60 136.65,746.60 141.19,746.60 145.74,746.60 150.28,746.60 154.82,746.60 159.37,746.60 163.91,746.60 168.46,746.60 173.00,746.60 177.54,746.60 182.09,746.60 186.63,746.60 191.17,746.60 195.72,746.60 200.26,746.60 204.80,746.60 209.35,746.60 213.89,746.60 218.43,746.60 222.98,746.60" fill="none" stroke="#313079" stroke-width="2.2" stroke-linejoin="round"/>
<polyline points="86.67,746.60 91.22,746.60 95.76,746.60 100.30,746.60 104.85,746.60 109.39,746.60 113.93,746.60 118.48,746.60 123.02,746.60 127.56,746.60 132.11,746.60 136.65,746.60 141.19,746.60 145.74,746.60 150.28,746.60 154.82,746.60 159.37,746.60 163.91,746.60 168.46,746.60 173.00,746.60 177.54,746.60 182.09,746.60 186.63,746.60 191.17,746.60 195.72,746.60 200.26,746.60 204.80,746.60 209.35,746.60 213.89,746.60 218.43,746.60 222.98,746.60" fill="none" stroke="#efab5c" stroke-width="2.2" stroke-linejoin="round"/>
<polyline points="86.67,654.10 91.22,742.62 95.76,744.46 100.30,745.68 104.85,746.29 109.39,746.60 113.93,746.60 118.48,746.60 123.02,746.60 127.56,746.60 132.11,746.60 136.65,746.60 141.19,746.60 145.74,746.60 150.28,746.60 154.82,746.60 159.37,746.60 163.91,746.60 168.46,746.60 173.00,746.60 177.54,746.60 182.09,746.60 186.63,746.60 191.17,746.60 195.72,746.60 200.26,746.60 204.80,746.60 209.35,746.60 213.89,746.60 218.43,746.60 222.98,746.60" fill="none" stroke="#cc6258" stroke-width="2.2" stroke-linejoin="round"/>
<line x1="84.40" y1="746.60" x2="225.25" y2="746.60" stroke="#d8c8c8" stroke-width="1.0" opacity="0.5"/>
<text x="151.25" y="632.50" class="tt" textLength="93.40" lengthAdjust="spacingAndGlyphs">LepSat17-88</text>
<text x="57.10" y="626.80" class="lt">q</text>
</svg>

<div style="position:absolute;left:313px;top:635px;width:458px;height:109px;border:2px solid #1a1a1a;box-sizing:content-box"></div>

<svg width="800" height="808" style="position:absolute;left:0;top:0">
<line x1="326.7" y1="656.8" x2="355.7" y2="656.8" stroke="#4f6fb5" stroke-width="4.5" stroke-linecap="round"/>
<text x="366.6" y="663.9" class="lg">L. sinapis</text>
<line x1="326.7" y1="691.8" x2="355.7" y2="691.8" stroke="#56b7d6" stroke-width="4.5" stroke-linecap="round"/>
<text x="364.5" y="699.6" class="lg">L. reali</text>
<line x1="327.9" y1="727.4" x2="356.9" y2="727.4" stroke="#2c2c80" stroke-width="4.5" stroke-linecap="round"/>
<text x="364.0" y="733.7" class="lg">L. juvernica</text>
<line x1="558.9" y1="655.5" x2="587.9" y2="655.5" stroke="#f3a647" stroke-width="4.5" stroke-linecap="round"/>
<text x="599.5" y="663.9" class="lg">L. amurensis</text>
<line x1="558.9" y1="689.5" x2="587.9" y2="689.5" stroke="#d25c50" stroke-width="4.5" stroke-linecap="round"/>
<text x="597.5" y="698.6" class="lg">L. morsei</text>
<text x="0" y="0" class="big" style="font-size:31.8px" transform="translate(26.1,542) rotate(-90)">Genome proportion (%)</text>
<text x="286" y="796.8" class="big" style="font-size:31.9px">K2P divergence (%)</text>
</svg>
</body></html>
